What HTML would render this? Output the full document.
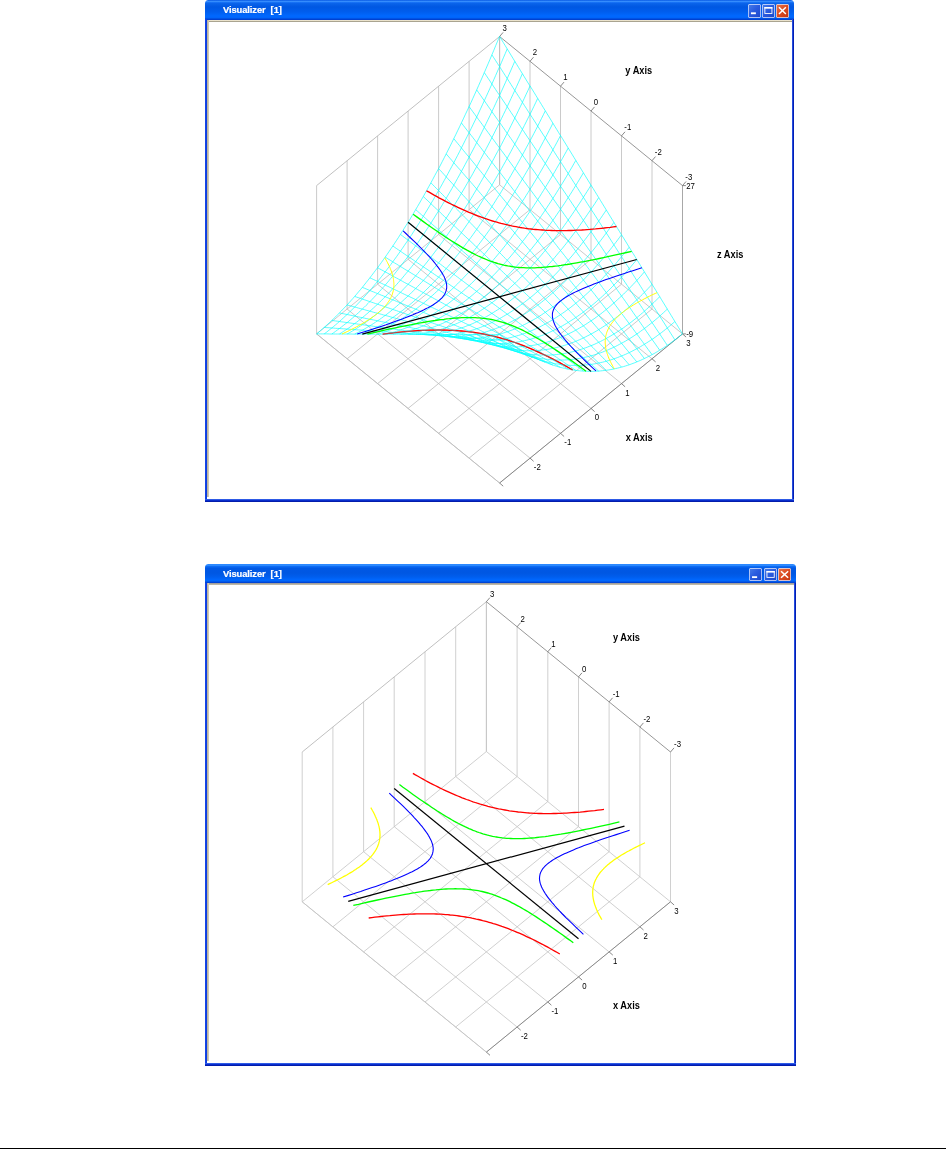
<!DOCTYPE html>
<html><head><meta charset="utf-8"><title>Visualizer</title>
<style>
html,body{margin:0;padding:0;background:#fff;}
body{width:946px;height:1149px;position:relative;overflow:hidden;font-family:"Liberation Sans",sans-serif;}
.win{position:absolute;box-sizing:border-box;background:#fff;border-radius:3.5px 3.5px 0 0;overflow:hidden;}
.bl{position:absolute;left:0;top:19px;bottom:0;width:2.2px;background:linear-gradient(to right,#1848e6,#0a3ae0);}
.br{position:absolute;right:0;top:19px;bottom:0;width:2.2px;background:linear-gradient(to right,#4a78f0 0,#0a30d4 40%,#00139b 100%);}
.bb{position:absolute;left:0;right:0;bottom:0;height:3.2px;background:linear-gradient(to bottom,#4a78f0 0,#0a34d8 38%,#00139b 100%);}
.win:after{content:"";position:absolute;left:0;right:0;bottom:0;height:0;}
.tb{position:absolute;left:0;right:0;top:0;height:20px;background:linear-gradient(to bottom,#0050e0 0px,#3b92ff 1.3px,#1872f5 2.4px,#0a63ea 3.4px,#0057e2 7px,#005eee 12px,#0068ff 16px,#0064f8 calc(100% - 2px),#0042d2 calc(100% - 1px),#0040d0 100%);}
.tt{will-change:transform;position:absolute;left:18px;-webkit-text-stroke:0.2px #fff;top:4px;font-size:9.4px;font-weight:bold;color:#fff;line-height:11px;white-space:pre;letter-spacing:-0.1px}
.btn{position:absolute;top:4.1px;box-sizing:border-box;border-radius:2px;background:linear-gradient(135deg,#4a7fe8 0%,#2a5ce0 45%,#1a45c8 100%);box-shadow:0 0 0 0.7px #dfe8ff inset;}
.btn svg{position:absolute;left:0;top:0}
.btn.cl{background:linear-gradient(135deg,#e8794e 0%,#dc4b22 50%,#c2330f 100%);}
.cl1{position:absolute;left:2px;right:2px;top:19.8px;height:2.3px;background:linear-gradient(to bottom,#f0e8d2 0,#e6dec6 45%,#aaa490 75%,#c8c4b6 100%);}
.w2 .tb{background:linear-gradient(to bottom,#2a86ff 0px,#2f8cff 1.4px,#0a68f2 2.6px,#0058e4 4.5px,#0057e2 9px,#005eee 13px,#0068ff 16px,#0066fa calc(100% - 2px),#0046d6 calc(100% - 0.8px),#0040d0 100%);}
.w2 .cl1{height:2.4px;background:linear-gradient(to bottom,#9aa0b4 0,#a8a290 40%,#bdb8a8 75%,#e4e2dc 100%);}
.cl2{position:absolute;left:2px;top:20px;bottom:4.6px;width:1.6px;background:linear-gradient(to right,#b4ac96 0,#d9d2bc 100%);}
svg.plot{position:absolute;left:0;top:0;will-change:transform;}
svg.plot text{font-family:"Liberation Sans",sans-serif;fill:#000;}
.hr{position:absolute;left:0;top:1147.6px;width:946px;height:1.4px;background:#000;}
</style></head><body>
<div class="win" style="left:205px;top:0px;width:589px;height:502px">
<div class="tb" style="height:20px"><span class="tt" style="top:4px">Visualizer&nbsp; [1]</span>
<div class="btn" style="left:543.2px;width:12.8px;height:13.6px"><svg width="12.8" height="13.6" viewBox="0 0 13 14" preserveAspectRatio="none"><rect x="3" y="8.6" width="5" height="1.9" fill="#fff"/></svg></div>
<div class="btn" style="left:557.3px;width:12.8px;height:13.6px"><svg width="12.8" height="13.6" viewBox="0 0 13 14" preserveAspectRatio="none"><rect x="2.9" y="3.6" width="7.2" height="6.2" fill="none" stroke="#fff" stroke-width="0.9"/><rect x="2.45" y="3.1" width="8.1" height="1.7" fill="#fff"/></svg></div>
<div class="btn cl" style="left:571.4px;width:12.8px;height:13.6px"><svg width="12.8" height="13.6" viewBox="0 0 13 14" preserveAspectRatio="none"><path d="M3 3.3 L10 10.3 M10 3.3 L3 10.3" stroke="#fff" stroke-width="1.5"/></svg></div>
</div>
<div class="cl1" style="top:19.8px"></div><div class="cl2" style="top:20px"></div>
<div class="bl"></div><div class="br"></div><div class="bb"></div>
</div>
<div class="win w2" style="left:205px;top:563.8px;width:591px;height:502.2px">
<div class="tb" style="height:19.4px"><span class="tt" style="top:3.8px">Visualizer&nbsp; [1]</span>
<div class="btn" style="left:544.2px;width:13.2px;height:13.4px"><svg width="13.2" height="13.4" viewBox="0 0 13 14" preserveAspectRatio="none"><rect x="3" y="8.6" width="5" height="1.9" fill="#fff"/></svg></div>
<div class="btn" style="left:558.7px;width:13.2px;height:13.4px"><svg width="13.2" height="13.4" viewBox="0 0 13 14" preserveAspectRatio="none"><rect x="2.9" y="3.6" width="7.2" height="6.2" fill="none" stroke="#fff" stroke-width="0.9"/><rect x="2.45" y="3.1" width="8.1" height="1.7" fill="#fff"/></svg></div>
<div class="btn cl" style="left:573.2px;width:13.2px;height:13.4px"><svg width="13.2" height="13.4" viewBox="0 0 13 14" preserveAspectRatio="none"><path d="M3 3.3 L10 10.3 M10 3.3 L3 10.3" stroke="#fff" stroke-width="1.5"/></svg></div>
</div>
<div class="cl1" style="top:19.2px"></div><div class="cl2" style="top:19.4px"></div>
<div class="bl"></div><div class="br"></div><div class="bb"></div>
</div>
<svg class="plot" width="946" height="1149" viewBox="0 0 946 1149">
<line x1="499.6" y1="483.0" x2="316.6" y2="333.9" stroke="#bcbcbc" stroke-width="0.8"/>
<line x1="499.6" y1="483.0" x2="682.5" y2="333.9" stroke="#bcbcbc" stroke-width="0.8"/>
<line x1="530.0" y1="458.1" x2="347.1" y2="309.0" stroke="#bcbcbc" stroke-width="0.8"/>
<line x1="469.1" y1="458.1" x2="652.0" y2="309.0" stroke="#bcbcbc" stroke-width="0.8"/>
<line x1="560.5" y1="433.3" x2="377.6" y2="284.2" stroke="#bcbcbc" stroke-width="0.8"/>
<line x1="438.6" y1="433.3" x2="621.5" y2="284.2" stroke="#bcbcbc" stroke-width="0.8"/>
<line x1="591.0" y1="408.4" x2="408.1" y2="259.3" stroke="#bcbcbc" stroke-width="0.8"/>
<line x1="408.1" y1="408.4" x2="591.0" y2="259.3" stroke="#bcbcbc" stroke-width="0.8"/>
<line x1="621.5" y1="383.6" x2="438.6" y2="234.5" stroke="#bcbcbc" stroke-width="0.8"/>
<line x1="377.6" y1="383.6" x2="560.5" y2="234.5" stroke="#bcbcbc" stroke-width="0.8"/>
<line x1="652.0" y1="358.8" x2="469.1" y2="209.6" stroke="#bcbcbc" stroke-width="0.8"/>
<line x1="347.1" y1="358.8" x2="530.0" y2="209.6" stroke="#bcbcbc" stroke-width="0.8"/>
<line x1="682.5" y1="333.9" x2="499.6" y2="184.8" stroke="#bcbcbc" stroke-width="0.8"/>
<line x1="316.6" y1="333.9" x2="499.6" y2="184.8" stroke="#bcbcbc" stroke-width="0.8"/>
<line x1="316.6" y1="333.9" x2="316.6" y2="185.6" stroke="#bcbcbc" stroke-width="0.8"/>
<line x1="682.5" y1="333.9" x2="682.5" y2="185.6" stroke="#bcbcbc" stroke-width="0.8"/>
<line x1="347.1" y1="309.0" x2="347.1" y2="160.7" stroke="#bcbcbc" stroke-width="0.8"/>
<line x1="652.0" y1="309.0" x2="652.0" y2="160.7" stroke="#bcbcbc" stroke-width="0.8"/>
<line x1="377.6" y1="284.2" x2="377.6" y2="135.9" stroke="#bcbcbc" stroke-width="0.8"/>
<line x1="621.5" y1="284.2" x2="621.5" y2="135.9" stroke="#bcbcbc" stroke-width="0.8"/>
<line x1="408.1" y1="259.3" x2="408.1" y2="111.0" stroke="#bcbcbc" stroke-width="0.8"/>
<line x1="591.0" y1="259.3" x2="591.0" y2="111.0" stroke="#bcbcbc" stroke-width="0.8"/>
<line x1="438.6" y1="234.5" x2="438.6" y2="86.2" stroke="#bcbcbc" stroke-width="0.8"/>
<line x1="560.5" y1="234.5" x2="560.5" y2="86.2" stroke="#bcbcbc" stroke-width="0.8"/>
<line x1="469.1" y1="209.6" x2="469.1" y2="61.3" stroke="#bcbcbc" stroke-width="0.8"/>
<line x1="530.0" y1="209.6" x2="530.0" y2="61.3" stroke="#bcbcbc" stroke-width="0.8"/>
<line x1="499.6" y1="184.8" x2="499.6" y2="36.5" stroke="#bcbcbc" stroke-width="0.8"/>
<line x1="499.6" y1="184.8" x2="499.6" y2="36.5" stroke="#bcbcbc" stroke-width="0.8"/>
<line x1="316.6" y1="185.6" x2="499.6" y2="36.5" stroke="#b0b0b0" stroke-width="0.8"/>
<line x1="499.6" y1="36.5" x2="682.5" y2="185.6" stroke="#6a6a6a" stroke-width="0.7"/>
<line x1="499.6" y1="483.0" x2="682.5" y2="333.9" stroke="#6a6a6a" stroke-width="0.7"/>
<line x1="499.6" y1="483.0" x2="316.6" y2="333.9" stroke="#bcbcbc" stroke-width="0.8"/>
<line x1="682.5" y1="333.9" x2="682.5" y2="185.6" stroke="#a0a0a0" stroke-width="0.8"/>
<line x1="682.5" y1="185.6" x2="686.0" y2="181.5" stroke="#6a6a6a" stroke-width="0.8"/>
<line x1="499.6" y1="483.0" x2="503.2" y2="486.2" stroke="#6a6a6a" stroke-width="0.8"/>
<line x1="652.0" y1="160.7" x2="655.5" y2="156.6" stroke="#6a6a6a" stroke-width="0.8"/>
<line x1="530.0" y1="458.1" x2="533.6" y2="461.3" stroke="#6a6a6a" stroke-width="0.8"/>
<line x1="621.5" y1="135.9" x2="625.0" y2="131.8" stroke="#6a6a6a" stroke-width="0.8"/>
<line x1="560.5" y1="433.3" x2="564.1" y2="436.5" stroke="#6a6a6a" stroke-width="0.8"/>
<line x1="591.0" y1="111.0" x2="594.5" y2="106.9" stroke="#6a6a6a" stroke-width="0.8"/>
<line x1="591.0" y1="408.4" x2="594.6" y2="411.6" stroke="#6a6a6a" stroke-width="0.8"/>
<line x1="560.5" y1="86.2" x2="564.0" y2="82.1" stroke="#6a6a6a" stroke-width="0.8"/>
<line x1="621.5" y1="383.6" x2="625.1" y2="386.8" stroke="#6a6a6a" stroke-width="0.8"/>
<line x1="530.0" y1="61.3" x2="533.5" y2="57.2" stroke="#6a6a6a" stroke-width="0.8"/>
<line x1="652.0" y1="358.8" x2="655.6" y2="361.9" stroke="#6a6a6a" stroke-width="0.8"/>
<line x1="499.6" y1="36.5" x2="503.1" y2="32.4" stroke="#6a6a6a" stroke-width="0.8"/>
<line x1="682.5" y1="333.9" x2="686.1" y2="337.1" stroke="#6a6a6a" stroke-width="0.8"/>
<line x1="682.5" y1="333.9" x2="685.9" y2="333.9" stroke="#6a6a6a" stroke-width="0.8"/>
<line x1="682.5" y1="185.6" x2="685.9" y2="185.6" stroke="#6a6a6a" stroke-width="0.8"/>
<path d="M572.6 369.9 L570.0 368.5 L567.5 367.0 L565.0 365.6 L562.5 364.2 L560.1 362.9 L557.6 361.6 L555.2 360.3 L552.9 359.1 L550.5 357.9 L548.2 356.7 L545.9 355.6 L543.6 354.5 L541.3 353.4 L539.0 352.3 L536.8 351.3 L534.5 350.3 L532.3 349.3 L530.1 348.4 L527.9 347.5 L525.7 346.6 L523.6 345.7 L521.4 344.9 L519.2 344.1 L517.1 343.3 L515.0 342.5 L512.8 341.8 L510.7 341.1 L508.6 340.4 L506.5 339.7 L504.3 339.1 L502.2 338.5 L500.1 337.9 L498.0 337.3 L495.9 336.8 L493.8 336.2 L491.6 335.7 L489.5 335.3 L487.4 334.8 L485.3 334.4 L483.1 334.0 L481.0 333.6 L478.8 333.2 L476.7 332.8 L474.5 332.5 L472.3 332.2 L470.2 331.9 L468.0 331.7 L465.7 331.4 L463.5 331.2 L461.3 331.0 L459.0 330.8 L456.8 330.6 L454.5 330.5 L452.2 330.4 L449.8 330.3 L447.5 330.2 L445.1 330.1 L442.7 330.1 L440.3 330.0 L437.9 330.0 L435.4 330.1 L432.9 330.1 L430.4 330.1 L427.9 330.2 L425.3 330.3 L422.7 330.4 L420.1 330.6 L417.4 330.7 L414.7 330.9 L412.0 331.1 L409.3 331.3 L406.5 331.5 L403.6 331.8 L400.7 332.1 L397.8 332.4 L394.9 332.7 L391.9 333.0 L388.8 333.4 L385.8 333.8 L382.6 334.2" fill="none" stroke="#ff0000" stroke-width="1.3"/>
<path d="M499.6 334.7 L497.6 334.7 L495.7 334.7 L493.8 334.7 L491.9 334.6 L490.0 334.6 L488.1 334.6 L486.2 334.6 L484.3 334.6 L482.4 334.6 L480.5 334.6 L478.6 334.6 L476.7 334.6 L474.8 334.6 L472.9 334.6 L471.0 334.6 L469.1 334.5 L467.1 334.5 L465.2 334.5 L463.3 334.5 L461.4 334.5 L459.5 334.5 L457.6 334.5 L455.7 334.5 L453.8 334.5 L451.9 334.5 L450.0 334.5 L448.1 334.5 L446.2 334.5 L444.3 334.4 L442.4 334.4 L440.5 334.4 L438.6 334.4 L436.6 334.4 L434.7 334.4 L432.8 334.4 L430.9 334.4 L429.0 334.4 L427.1 334.4 L425.2 334.4 L423.3 334.4 L421.4 334.3 L419.5 334.3 L417.6 334.3 L415.7 334.3 L413.8 334.3 L411.9 334.3 L410.0 334.3 L408.1 334.3 L406.1 334.3 L404.2 334.3 L402.3 334.3 L400.4 334.3 L398.5 334.2 L396.6 334.2 L394.7 334.2 L392.8 334.2 L390.9 334.2 L389.0 334.2 L387.1 334.2 L385.2 334.2 L383.3 334.2 L381.4 334.2 L379.5 334.2 L377.6 334.2 L375.6 334.2 L373.7 334.1 L371.8 334.1 L369.9 334.1 L368.0 334.1 L366.1 334.1 L364.2 334.1 L362.3 334.1 L360.4 334.1 L358.5 334.1 L356.6 334.1 L354.7 334.1 L352.8 334.1 L350.9 334.0 L349.0 334.0 L347.1 334.0 L345.1 334.0 L343.2 334.0 L341.3 334.0 L339.4 334.0 L337.5 334.0 L335.6 334.0 L333.7 334.0 L331.8 334.0 L329.9 334.0 L328.0 333.9 L326.1 333.9 L324.2 333.9 L322.3 333.9 L320.4 333.9 L318.5 333.9 L316.6 333.9" fill="none" stroke="#00ffff" stroke-width="0.65"/>
<path d="M499.6 334.7 L501.5 336.2 L503.4 337.7 L505.3 339.1 L507.2 340.6 L509.1 342.0 L511.0 343.3 L512.9 344.6 L514.8 345.9 L516.7 347.2 L518.6 348.4 L520.5 349.6 L522.4 350.8 L524.3 351.9 L526.2 353.0 L528.1 354.1 L530.0 355.1 L532.0 356.2 L533.9 357.1 L535.8 358.1 L537.7 359.0 L539.6 359.9 L541.5 360.7 L543.4 361.5 L545.3 362.3 L547.2 363.0 L549.1 363.8 L551.0 364.4 L552.9 365.1 L554.8 365.7 L556.7 366.3 L558.6 366.9 L560.5 367.4 L562.5 367.9 L564.4 368.3 L566.3 368.8 L568.2 369.1 L570.1 369.5 L572.0 369.8 L573.9 370.1 L575.8 370.4 L577.7 370.6 L579.6 370.8 L581.5 371.0 L583.4 371.1 L585.3 371.2 L587.2 371.3 L589.1 371.4 L591.0 371.4 L593.0 371.3 L594.9 371.3 L596.8 371.2 L598.7 371.1 L600.6 370.9 L602.5 370.7 L604.4 370.5 L606.3 370.3 L608.2 370.0 L610.1 369.7 L612.0 369.3 L613.9 369.0 L615.8 368.5 L617.7 368.1 L619.6 367.6 L621.5 367.1 L623.5 366.6 L625.4 366.0 L627.3 365.4 L629.2 364.8 L631.1 364.1 L633.0 363.4 L634.9 362.7 L636.8 361.9 L638.7 361.1 L640.6 360.3 L642.5 359.4 L644.4 358.5 L646.3 357.6 L648.2 356.6 L650.1 355.7 L652.0 354.6 L654.0 353.6 L655.9 352.5 L657.8 351.4 L659.7 350.2 L661.6 349.0 L663.5 347.8 L665.4 346.6 L667.3 345.3 L669.2 344.0 L671.1 342.6 L673.0 341.3 L674.9 339.9 L676.8 338.4 L678.7 336.9 L680.6 335.4 L682.5 333.9" fill="none" stroke="#00ffff" stroke-width="0.65"/>
<path d="M507.2 340.6 L505.3 340.4 L503.4 340.3 L501.5 340.2 L499.6 340.0 L497.6 339.9 L495.7 339.7 L493.8 339.6 L491.9 339.5 L490.0 339.3 L488.1 339.2 L486.2 339.1 L484.3 338.9 L482.4 338.8 L480.5 338.7 L478.6 338.5 L476.7 338.4 L474.8 338.2 L472.9 338.1 L471.0 338.0 L469.1 337.8 L467.1 337.7 L465.2 337.6 L463.3 337.4 L461.4 337.3 L459.5 337.1 L457.6 337.0 L455.7 336.9 L453.8 336.7 L451.9 336.6 L450.0 336.5 L448.1 336.3 L446.2 336.2 L444.3 336.1 L442.4 335.9 L440.5 335.8 L438.6 335.6 L436.6 335.5 L434.7 335.4 L432.8 335.2 L430.9 335.1 L429.0 335.0 L427.1 334.8 L425.2 334.7 L423.3 334.5 L421.4 334.4 L419.5 334.3 L417.6 334.1 L415.7 334.0 L413.8 333.9 L411.9 333.7 L410.0 333.6 L408.1 333.5 L406.1 333.3 L404.2 333.2 L402.3 333.0 L400.4 332.9 L398.5 332.8 L396.6 332.6 L394.7 332.5 L392.8 332.4 L390.9 332.2 L389.0 332.1 L387.1 331.9 L385.2 331.8 L383.3 331.7 L381.4 331.5 L379.5 331.4 L377.6 331.3 L375.6 331.1 L373.7 331.0 L371.8 330.9 L369.9 330.7 L368.0 330.6 L366.1 330.4 L364.2 330.3 L362.3 330.2 L360.4 330.0 L358.5 329.9 L356.6 329.8 L354.7 329.6 L352.8 329.5 L350.9 329.3 L349.0 329.2 L347.1 329.1 L345.1 328.9 L343.2 328.8 L341.3 328.7 L339.4 328.5 L337.5 328.4 L335.6 328.3 L333.7 328.1 L331.8 328.0 L329.9 327.8 L328.0 327.7 L326.1 327.6 L324.2 327.4" fill="none" stroke="#00ffff" stroke-width="0.65"/>
<path d="M491.9 334.6 L493.8 336.0 L495.7 337.4 L497.6 338.7 L499.6 340.0 L501.5 341.3 L503.4 342.5 L505.3 343.7 L507.2 344.9 L509.1 346.0 L511.0 347.1 L512.9 348.2 L514.8 349.2 L516.7 350.2 L518.6 351.2 L520.5 352.1 L522.4 353.1 L524.3 353.9 L526.2 354.8 L528.1 355.6 L530.0 356.4 L532.0 357.1 L533.9 357.8 L535.8 358.5 L537.7 359.2 L539.6 359.8 L541.5 360.4 L543.4 360.9 L545.3 361.5 L547.2 361.9 L549.1 362.4 L551.0 362.8 L552.9 363.2 L554.8 363.6 L556.7 363.9 L558.6 364.2 L560.5 364.5 L562.5 364.7 L564.4 364.9 L566.3 365.1 L568.2 365.2 L570.1 365.3 L572.0 365.4 L573.9 365.4 L575.8 365.4 L577.7 365.4 L579.6 365.4 L581.5 365.3 L583.4 365.2 L585.3 365.0 L587.2 364.8 L589.1 364.6 L591.0 364.4 L593.0 364.1 L594.9 363.8 L596.8 363.4 L598.7 363.0 L600.6 362.6 L602.5 362.2 L604.4 361.7 L606.3 361.2 L608.2 360.7 L610.1 360.1 L612.0 359.5 L613.9 358.8 L615.8 358.2 L617.7 357.5 L619.6 356.7 L621.5 356.0 L623.5 355.2 L625.4 354.4 L627.3 353.5 L629.2 352.6 L631.1 351.7 L633.0 350.7 L634.9 349.7 L636.8 348.7 L638.7 347.7 L640.6 346.6 L642.5 345.4 L644.4 344.3 L646.3 343.1 L648.2 341.9 L650.1 340.7 L652.0 339.4 L654.0 338.1 L655.9 336.7 L657.8 335.3 L659.7 333.9 L661.6 332.5 L663.5 331.0 L665.4 329.5 L667.3 328.0 L669.2 326.4 L671.1 324.8 L673.0 323.2 L674.9 321.5" fill="none" stroke="#00ffff" stroke-width="0.65"/>
<path d="M514.8 345.9 L512.9 345.7 L511.0 345.4 L509.1 345.1 L507.2 344.9 L505.3 344.6 L503.4 344.4 L501.5 344.1 L499.6 343.8 L497.6 343.6 L495.7 343.3 L493.8 343.0 L491.9 342.8 L490.0 342.5 L488.1 342.2 L486.2 342.0 L484.3 341.7 L482.4 341.4 L480.5 341.2 L478.6 340.9 L476.7 340.6 L474.8 340.4 L472.9 340.1 L471.0 339.8 L469.1 339.6 L467.1 339.3 L465.2 339.0 L463.3 338.8 L461.4 338.5 L459.5 338.2 L457.6 338.0 L455.7 337.7 L453.8 337.4 L451.9 337.2 L450.0 336.9 L448.1 336.6 L446.2 336.4 L444.3 336.1 L442.4 335.9 L440.5 335.6 L438.6 335.3 L436.6 335.1 L434.7 334.8 L432.8 334.5 L430.9 334.3 L429.0 334.0 L427.1 333.7 L425.2 333.5 L423.3 333.2 L421.4 332.9 L419.5 332.7 L417.6 332.4 L415.7 332.1 L413.8 331.9 L411.9 331.6 L410.0 331.3 L408.1 331.1 L406.1 330.8 L404.2 330.5 L402.3 330.3 L400.4 330.0 L398.5 329.7 L396.6 329.5 L394.7 329.2 L392.8 328.9 L390.9 328.7 L389.0 328.4 L387.1 328.1 L385.2 327.9 L383.3 327.6 L381.4 327.4 L379.5 327.1 L377.6 326.8 L375.6 326.6 L373.7 326.3 L371.8 326.0 L369.9 325.8 L368.0 325.5 L366.1 325.2 L364.2 325.0 L362.3 324.7 L360.4 324.4 L358.5 324.2 L356.6 323.9 L354.7 323.6 L352.8 323.4 L350.9 323.1 L349.0 322.8 L347.1 322.6 L345.1 322.3 L343.2 322.0 L341.3 321.8 L339.4 321.5 L337.5 321.2 L335.6 321.0 L333.7 320.7 L331.8 320.4" fill="none" stroke="#00ffff" stroke-width="0.65"/>
<path d="M484.3 334.6 L486.2 335.9 L488.1 337.1 L490.0 338.3 L491.9 339.5 L493.8 340.6 L495.7 341.7 L497.6 342.8 L499.6 343.8 L501.5 344.8 L503.4 345.8 L505.3 346.7 L507.2 347.6 L509.1 348.5 L511.0 349.4 L512.9 350.2 L514.8 351.0 L516.7 351.7 L518.6 352.4 L520.5 353.1 L522.4 353.8 L524.3 354.4 L526.2 355.0 L528.1 355.5 L530.0 356.0 L532.0 356.5 L533.9 357.0 L535.8 357.4 L537.7 357.8 L539.6 358.2 L541.5 358.5 L543.4 358.8 L545.3 359.1 L547.2 359.3 L549.1 359.5 L551.0 359.7 L552.9 359.8 L554.8 359.9 L556.7 360.0 L558.6 360.0 L560.5 360.0 L562.5 360.0 L564.4 360.0 L566.3 359.9 L568.2 359.7 L570.1 359.6 L572.0 359.4 L573.9 359.2 L575.8 358.9 L577.7 358.7 L579.6 358.3 L581.5 358.0 L583.4 357.6 L585.3 357.2 L587.2 356.8 L589.1 356.3 L591.0 355.8 L593.0 355.3 L594.9 354.7 L596.8 354.1 L598.7 353.4 L600.6 352.8 L602.5 352.1 L604.4 351.3 L606.3 350.6 L608.2 349.8 L610.1 348.9 L612.0 348.1 L613.9 347.2 L615.8 346.3 L617.7 345.3 L619.6 344.3 L621.5 343.3 L623.5 342.2 L625.4 341.2 L627.3 340.0 L629.2 338.9 L631.1 337.7 L633.0 336.5 L634.9 335.2 L636.8 334.0 L638.7 332.7 L640.6 331.3 L642.5 329.9 L644.4 328.5 L646.3 327.1 L648.2 325.6 L650.1 324.1 L652.0 322.6 L654.0 321.0 L655.9 319.4 L657.8 317.8 L659.7 316.1 L661.6 314.4 L663.5 312.7 L665.4 310.9 L667.3 309.1" fill="none" stroke="#00ffff" stroke-width="0.65"/>
<path d="M522.4 350.8 L520.5 350.4 L518.6 350.0 L516.7 349.6 L514.8 349.2 L512.9 348.8 L511.0 348.4 L509.1 348.0 L507.2 347.6 L505.3 347.3 L503.4 346.9 L501.5 346.5 L499.6 346.1 L497.6 345.7 L495.7 345.3 L493.8 344.9 L491.9 344.5 L490.0 344.1 L488.1 343.7 L486.2 343.3 L484.3 342.9 L482.4 342.5 L480.5 342.1 L478.6 341.7 L476.7 341.3 L474.8 340.9 L472.9 340.6 L471.0 340.2 L469.1 339.8 L467.1 339.4 L465.2 339.0 L463.3 338.6 L461.4 338.2 L459.5 337.8 L457.6 337.4 L455.7 337.0 L453.8 336.6 L451.9 336.2 L450.0 335.8 L448.1 335.4 L446.2 335.0 L444.3 334.6 L442.4 334.2 L440.5 333.8 L438.6 333.5 L436.6 333.1 L434.7 332.7 L432.8 332.3 L430.9 331.9 L429.0 331.5 L427.1 331.1 L425.2 330.7 L423.3 330.3 L421.4 329.9 L419.5 329.5 L417.6 329.1 L415.7 328.7 L413.8 328.3 L411.9 327.9 L410.0 327.5 L408.1 327.1 L406.1 326.7 L404.2 326.4 L402.3 326.0 L400.4 325.6 L398.5 325.2 L396.6 324.8 L394.7 324.4 L392.8 324.0 L390.9 323.6 L389.0 323.2 L387.1 322.8 L385.2 322.4 L383.3 322.0 L381.4 321.6 L379.5 321.2 L377.6 320.8 L375.6 320.4 L373.7 320.0 L371.8 319.6 L369.9 319.3 L368.0 318.9 L366.1 318.5 L364.2 318.1 L362.3 317.7 L360.4 317.3 L358.5 316.9 L356.6 316.5 L354.7 316.1 L352.8 315.7 L350.9 315.3 L349.0 314.9 L347.1 314.5 L345.1 314.1 L343.2 313.7 L341.3 313.3 L339.4 312.9" fill="none" stroke="#00ffff" stroke-width="0.65"/>
<path d="M476.7 334.6 L478.6 335.7 L480.5 336.8 L482.4 337.9 L484.3 338.9 L486.2 339.9 L488.1 340.9 L490.0 341.8 L491.9 342.8 L493.8 343.6 L495.7 344.5 L497.6 345.3 L499.6 346.1 L501.5 346.8 L503.4 347.5 L505.3 348.2 L507.2 348.9 L509.1 349.5 L511.0 350.1 L512.9 350.6 L514.8 351.2 L516.7 351.6 L518.6 352.1 L520.5 352.5 L522.4 352.9 L524.3 353.3 L526.2 353.6 L528.1 353.9 L530.0 354.2 L532.0 354.4 L533.9 354.6 L535.8 354.8 L537.7 354.9 L539.6 355.0 L541.5 355.1 L543.4 355.1 L545.3 355.1 L547.2 355.1 L549.1 355.1 L551.0 355.0 L552.9 354.9 L554.8 354.7 L556.7 354.5 L558.6 354.3 L560.5 354.1 L562.5 353.8 L564.4 353.5 L566.3 353.1 L568.2 352.7 L570.1 352.3 L572.0 351.9 L573.9 351.4 L575.8 350.9 L577.7 350.4 L579.6 349.8 L581.5 349.2 L583.4 348.5 L585.3 347.9 L587.2 347.2 L589.1 346.4 L591.0 345.7 L593.0 344.9 L594.9 344.1 L596.8 343.2 L598.7 342.3 L600.6 341.4 L602.5 340.4 L604.4 339.4 L606.3 338.4 L608.2 337.4 L610.1 336.3 L612.0 335.1 L613.9 334.0 L615.8 332.8 L617.7 331.6 L619.6 330.4 L621.5 329.1 L623.5 327.8 L625.4 326.4 L627.3 325.0 L629.2 323.6 L631.1 322.2 L633.0 320.7 L634.9 319.2 L636.8 317.7 L638.7 316.1 L640.6 314.5 L642.5 312.9 L644.4 311.2 L646.3 309.5 L648.2 307.8 L650.1 306.0 L652.0 304.2 L654.0 302.4 L655.9 300.5 L657.8 298.6 L659.7 296.7" fill="none" stroke="#00ffff" stroke-width="0.65"/>
<path d="M530.0 355.1 L528.1 354.6 L526.2 354.1 L524.3 353.6 L522.4 353.1 L520.5 352.5 L518.6 352.0 L516.7 351.5 L514.8 351.0 L512.9 350.4 L511.0 349.9 L509.1 349.4 L507.2 348.9 L505.3 348.3 L503.4 347.8 L501.5 347.3 L499.6 346.8 L497.6 346.3 L495.7 345.7 L493.8 345.2 L491.9 344.7 L490.0 344.2 L488.1 343.6 L486.2 343.1 L484.3 342.6 L482.4 342.1 L480.5 341.5 L478.6 341.0 L476.7 340.5 L474.8 340.0 L472.9 339.5 L471.0 338.9 L469.1 338.4 L467.1 337.9 L465.2 337.4 L463.3 336.8 L461.4 336.3 L459.5 335.8 L457.6 335.3 L455.7 334.7 L453.8 334.2 L451.9 333.7 L450.0 333.2 L448.1 332.7 L446.2 332.1 L444.3 331.6 L442.4 331.1 L440.5 330.6 L438.6 330.0 L436.6 329.5 L434.7 329.0 L432.8 328.5 L430.9 327.9 L429.0 327.4 L427.1 326.9 L425.2 326.4 L423.3 325.9 L421.4 325.3 L419.5 324.8 L417.6 324.3 L415.7 323.8 L413.8 323.2 L411.9 322.7 L410.0 322.2 L408.1 321.7 L406.1 321.1 L404.2 320.6 L402.3 320.1 L400.4 319.6 L398.5 319.1 L396.6 318.5 L394.7 318.0 L392.8 317.5 L390.9 317.0 L389.0 316.4 L387.1 315.9 L385.2 315.4 L383.3 314.9 L381.4 314.3 L379.5 313.8 L377.6 313.3 L375.6 312.8 L373.7 312.3 L371.8 311.7 L369.9 311.2 L368.0 310.7 L366.1 310.2 L364.2 309.6 L362.3 309.1 L360.4 308.6 L358.5 308.1 L356.6 307.5 L354.7 307.0 L352.8 306.5 L350.9 306.0 L349.0 305.5 L347.1 304.9" fill="none" stroke="#00ffff" stroke-width="0.65"/>
<path d="M469.1 334.5 L471.0 335.6 L472.9 336.5 L474.8 337.5 L476.7 338.4 L478.6 339.3 L480.5 340.1 L482.4 340.9 L484.3 341.7 L486.2 342.4 L488.1 343.2 L490.0 343.8 L491.9 344.5 L493.8 345.1 L495.7 345.7 L497.6 346.3 L499.6 346.8 L501.5 347.3 L503.4 347.7 L505.3 348.2 L507.2 348.5 L509.1 348.9 L511.0 349.2 L512.9 349.5 L514.8 349.8 L516.7 350.0 L518.6 350.2 L520.5 350.4 L522.4 350.5 L524.3 350.6 L526.2 350.7 L528.1 350.8 L530.0 350.8 L532.0 350.7 L533.9 350.7 L535.8 350.6 L537.7 350.5 L539.6 350.3 L541.5 350.1 L543.4 349.9 L545.3 349.7 L547.2 349.4 L549.1 349.1 L551.0 348.7 L552.9 348.4 L554.8 347.9 L556.7 347.5 L558.6 347.0 L560.5 346.5 L562.5 346.0 L564.4 345.4 L566.3 344.8 L568.2 344.2 L570.1 343.5 L572.0 342.8 L573.9 342.1 L575.8 341.3 L577.7 340.5 L579.6 339.7 L581.5 338.8 L583.4 337.9 L585.3 337.0 L587.2 336.0 L589.1 335.1 L591.0 334.0 L593.0 333.0 L594.9 331.9 L596.8 330.8 L598.7 329.6 L600.6 328.4 L602.5 327.2 L604.4 326.0 L606.3 324.7 L608.2 323.4 L610.1 322.0 L612.0 320.7 L613.9 319.3 L615.8 317.8 L617.7 316.3 L619.6 314.8 L621.5 313.3 L623.5 311.7 L625.4 310.1 L627.3 308.5 L629.2 306.8 L631.1 305.1 L633.0 303.4 L634.9 301.6 L636.8 299.8 L638.7 298.0 L640.6 296.2 L642.5 294.3 L644.4 292.3 L646.3 290.4 L648.2 288.4 L650.1 286.4 L652.0 284.3" fill="none" stroke="#00ffff" stroke-width="0.65"/>
<path d="M537.7 359.0 L535.8 358.3 L533.9 357.7 L532.0 357.0 L530.0 356.4 L528.1 355.7 L526.2 355.1 L524.3 354.4 L522.4 353.8 L520.5 353.1 L518.6 352.5 L516.7 351.8 L514.8 351.2 L512.9 350.5 L511.0 349.9 L509.1 349.2 L507.2 348.5 L505.3 347.9 L503.4 347.2 L501.5 346.6 L499.6 345.9 L497.6 345.3 L495.7 344.6 L493.8 344.0 L491.9 343.3 L490.0 342.7 L488.1 342.0 L486.2 341.4 L484.3 340.7 L482.4 340.1 L480.5 339.4 L478.6 338.8 L476.7 338.1 L474.8 337.5 L472.9 336.8 L471.0 336.2 L469.1 335.5 L467.1 334.9 L465.2 334.2 L463.3 333.6 L461.4 332.9 L459.5 332.3 L457.6 331.6 L455.7 330.9 L453.8 330.3 L451.9 329.6 L450.0 329.0 L448.1 328.3 L446.2 327.7 L444.3 327.0 L442.4 326.4 L440.5 325.7 L438.6 325.1 L436.6 324.4 L434.7 323.8 L432.8 323.1 L430.9 322.5 L429.0 321.8 L427.1 321.2 L425.2 320.5 L423.3 319.9 L421.4 319.2 L419.5 318.6 L417.6 317.9 L415.7 317.3 L413.8 316.6 L411.9 316.0 L410.0 315.3 L408.1 314.7 L406.1 314.0 L404.2 313.3 L402.3 312.7 L400.4 312.0 L398.5 311.4 L396.6 310.7 L394.7 310.1 L392.8 309.4 L390.9 308.8 L389.0 308.1 L387.1 307.5 L385.2 306.8 L383.3 306.2 L381.4 305.5 L379.5 304.9 L377.6 304.2 L375.6 303.6 L373.7 302.9 L371.8 302.3 L369.9 301.6 L368.0 301.0 L366.1 300.3 L364.2 299.7 L362.3 299.0 L360.4 298.4 L358.5 297.7 L356.6 297.1 L354.7 296.4" fill="none" stroke="#00ffff" stroke-width="0.65"/>
<path d="M461.4 334.5 L463.3 335.4 L465.2 336.2 L467.1 337.1 L469.1 337.8 L471.0 338.6 L472.9 339.3 L474.8 340.0 L476.7 340.6 L478.6 341.3 L480.5 341.8 L482.4 342.4 L484.3 342.9 L486.2 343.4 L488.1 343.9 L490.0 344.3 L491.9 344.7 L493.8 345.0 L495.7 345.4 L497.6 345.7 L499.6 345.9 L501.5 346.2 L503.4 346.4 L505.3 346.5 L507.2 346.7 L509.1 346.8 L511.0 346.9 L512.9 346.9 L514.8 346.9 L516.7 346.9 L518.6 346.8 L520.5 346.7 L522.4 346.6 L524.3 346.5 L526.2 346.3 L528.1 346.1 L530.0 345.8 L532.0 345.5 L533.9 345.2 L535.8 344.9 L537.7 344.5 L539.6 344.1 L541.5 343.6 L543.4 343.2 L545.3 342.7 L547.2 342.1 L549.1 341.5 L551.0 340.9 L552.9 340.3 L554.8 339.6 L556.7 338.9 L558.6 338.2 L560.5 337.4 L562.5 336.6 L564.4 335.8 L566.3 335.0 L568.2 334.1 L570.1 333.1 L572.0 332.2 L573.9 331.2 L575.8 330.2 L577.7 329.1 L579.6 328.0 L581.5 326.9 L583.4 325.8 L585.3 324.6 L587.2 323.4 L589.1 322.1 L591.0 320.8 L593.0 319.5 L594.9 318.2 L596.8 316.8 L598.7 315.4 L600.6 314.0 L602.5 312.5 L604.4 311.0 L606.3 309.4 L608.2 307.9 L610.1 306.3 L612.0 304.6 L613.9 303.0 L615.8 301.3 L617.7 299.5 L619.6 297.8 L621.5 296.0 L623.5 294.2 L625.4 292.3 L627.3 290.4 L629.2 288.5 L631.1 286.5 L633.0 284.5 L634.9 282.5 L636.8 280.5 L638.7 278.4 L640.6 276.3 L642.5 274.1 L644.4 271.9" fill="none" stroke="#00ffff" stroke-width="0.65"/>
<path d="M545.3 362.3 L543.4 361.5 L541.5 360.7 L539.6 360.0 L537.7 359.2 L535.8 358.4 L533.9 357.6 L532.0 356.8 L530.0 356.0 L528.1 355.3 L526.2 354.5 L524.3 353.7 L522.4 352.9 L520.5 352.1 L518.6 351.4 L516.7 350.6 L514.8 349.8 L512.9 349.0 L511.0 348.2 L509.1 347.5 L507.2 346.7 L505.3 345.9 L503.4 345.1 L501.5 344.3 L499.6 343.6 L497.6 342.8 L495.7 342.0 L493.8 341.2 L491.9 340.4 L490.0 339.7 L488.1 338.9 L486.2 338.1 L484.3 337.3 L482.4 336.5 L480.5 335.8 L478.6 335.0 L476.7 334.2 L474.8 333.4 L472.9 332.6 L471.0 331.9 L469.1 331.1 L467.1 330.3 L465.2 329.5 L463.3 328.7 L461.4 327.9 L459.5 327.2 L457.6 326.4 L455.7 325.6 L453.8 324.8 L451.9 324.0 L450.0 323.3 L448.1 322.5 L446.2 321.7 L444.3 320.9 L442.4 320.1 L440.5 319.4 L438.6 318.6 L436.6 317.8 L434.7 317.0 L432.8 316.2 L430.9 315.5 L429.0 314.7 L427.1 313.9 L425.2 313.1 L423.3 312.3 L421.4 311.6 L419.5 310.8 L417.6 310.0 L415.7 309.2 L413.8 308.4 L411.9 307.7 L410.0 306.9 L408.1 306.1 L406.1 305.3 L404.2 304.5 L402.3 303.7 L400.4 303.0 L398.5 302.2 L396.6 301.4 L394.7 300.6 L392.8 299.8 L390.9 299.1 L389.0 298.3 L387.1 297.5 L385.2 296.7 L383.3 295.9 L381.4 295.2 L379.5 294.4 L377.6 293.6 L375.6 292.8 L373.7 292.0 L371.8 291.3 L369.9 290.5 L368.0 289.7 L366.1 288.9 L364.2 288.1 L362.3 287.4" fill="none" stroke="#00ffff" stroke-width="0.65"/>
<path d="M453.8 334.5 L455.7 335.2 L457.6 335.9 L459.5 336.6 L461.4 337.3 L463.3 337.9 L465.2 338.5 L467.1 339.0 L469.1 339.6 L471.0 340.1 L472.9 340.5 L474.8 340.9 L476.7 341.3 L478.6 341.7 L480.5 342.0 L482.4 342.3 L484.3 342.6 L486.2 342.8 L488.1 343.0 L490.0 343.2 L491.9 343.3 L493.8 343.4 L495.7 343.5 L497.6 343.6 L499.6 343.6 L501.5 343.5 L503.4 343.5 L505.3 343.4 L507.2 343.3 L509.1 343.1 L511.0 342.9 L512.9 342.7 L514.8 342.5 L516.7 342.2 L518.6 341.9 L520.5 341.5 L522.4 341.1 L524.3 340.7 L526.2 340.3 L528.1 339.8 L530.0 339.3 L532.0 338.8 L533.9 338.2 L535.8 337.6 L537.7 337.0 L539.6 336.3 L541.5 335.6 L543.4 334.9 L545.3 334.1 L547.2 333.3 L549.1 332.5 L551.0 331.6 L552.9 330.7 L554.8 329.8 L556.7 328.8 L558.6 327.8 L560.5 326.8 L562.5 325.8 L564.4 324.7 L566.3 323.6 L568.2 322.4 L570.1 321.2 L572.0 320.0 L573.9 318.8 L575.8 317.5 L577.7 316.2 L579.6 314.8 L581.5 313.5 L583.4 312.0 L585.3 310.6 L587.2 309.1 L589.1 307.6 L591.0 306.1 L593.0 304.5 L594.9 302.9 L596.8 301.3 L598.7 299.6 L600.6 297.9 L602.5 296.2 L604.4 294.4 L606.3 292.6 L608.2 290.8 L610.1 288.9 L612.0 287.1 L613.9 285.1 L615.8 283.2 L617.7 281.2 L619.6 279.2 L621.5 277.1 L623.5 275.0 L625.4 272.9 L627.3 270.8 L629.2 268.6 L631.1 266.4 L633.0 264.1 L634.9 261.9 L636.8 259.5" fill="none" stroke="#00ffff" stroke-width="0.65"/>
<path d="M552.9 365.1 L551.0 364.2 L549.1 363.3 L547.2 362.4 L545.3 361.5 L543.4 360.5 L541.5 359.6 L539.6 358.7 L537.7 357.8 L535.8 356.9 L533.9 356.0 L532.0 355.1 L530.0 354.2 L528.1 353.3 L526.2 352.4 L524.3 351.5 L522.4 350.5 L520.5 349.6 L518.6 348.7 L516.7 347.8 L514.8 346.9 L512.9 346.0 L511.0 345.1 L509.1 344.2 L507.2 343.3 L505.3 342.4 L503.4 341.5 L501.5 340.5 L499.6 339.6 L497.6 338.7 L495.7 337.8 L493.8 336.9 L491.9 336.0 L490.0 335.1 L488.1 334.2 L486.2 333.3 L484.3 332.4 L482.4 331.4 L480.5 330.5 L478.6 329.6 L476.7 328.7 L474.8 327.8 L472.9 326.9 L471.0 326.0 L469.1 325.1 L467.1 324.2 L465.2 323.3 L463.3 322.4 L461.4 321.4 L459.5 320.5 L457.6 319.6 L455.7 318.7 L453.8 317.8 L451.9 316.9 L450.0 316.0 L448.1 315.1 L446.2 314.2 L444.3 313.3 L442.4 312.4 L440.5 311.4 L438.6 310.5 L436.6 309.6 L434.7 308.7 L432.8 307.8 L430.9 306.9 L429.0 306.0 L427.1 305.1 L425.2 304.2 L423.3 303.3 L421.4 302.3 L419.5 301.4 L417.6 300.5 L415.7 299.6 L413.8 298.7 L411.9 297.8 L410.0 296.9 L408.1 296.0 L406.1 295.1 L404.2 294.2 L402.3 293.3 L400.4 292.3 L398.5 291.4 L396.6 290.5 L394.7 289.6 L392.8 288.7 L390.9 287.8 L389.0 286.9 L387.1 286.0 L385.2 285.1 L383.3 284.2 L381.4 283.3 L379.5 282.3 L377.6 281.4 L375.6 280.5 L373.7 279.6 L371.8 278.7 L369.9 277.8" fill="none" stroke="#00ffff" stroke-width="0.65"/>
<path d="M446.2 334.5 L448.1 335.1 L450.0 335.7 L451.9 336.2 L453.8 336.7 L455.7 337.2 L457.6 337.7 L459.5 338.1 L461.4 338.5 L463.3 338.9 L465.2 339.2 L467.1 339.5 L469.1 339.8 L471.0 340.0 L472.9 340.2 L474.8 340.4 L476.7 340.5 L478.6 340.6 L480.5 340.7 L482.4 340.7 L484.3 340.7 L486.2 340.7 L488.1 340.6 L490.0 340.6 L491.9 340.4 L493.8 340.3 L495.7 340.1 L497.6 339.9 L499.6 339.6 L501.5 339.4 L503.4 339.0 L505.3 338.7 L507.2 338.3 L509.1 337.9 L511.0 337.5 L512.9 337.0 L514.8 336.5 L516.7 335.9 L518.6 335.4 L520.5 334.8 L522.4 334.1 L524.3 333.5 L526.2 332.8 L528.1 332.0 L530.0 331.3 L532.0 330.5 L533.9 329.6 L535.8 328.8 L537.7 327.9 L539.6 327.0 L541.5 326.0 L543.4 325.0 L545.3 324.0 L547.2 322.9 L549.1 321.8 L551.0 320.7 L552.9 319.6 L554.8 318.4 L556.7 317.2 L558.6 315.9 L560.5 314.7 L562.5 313.3 L564.4 312.0 L566.3 310.6 L568.2 309.2 L570.1 307.8 L572.0 306.3 L573.9 304.8 L575.8 303.3 L577.7 301.7 L579.6 300.1 L581.5 298.5 L583.4 296.8 L585.3 295.1 L587.2 293.4 L589.1 291.6 L591.0 289.8 L593.0 288.0 L594.9 286.1 L596.8 284.2 L598.7 282.3 L600.6 280.3 L602.5 278.4 L604.4 276.3 L606.3 274.3 L608.2 272.2 L610.1 270.1 L612.0 267.9 L613.9 265.8 L615.8 263.5 L617.7 261.3 L619.6 259.0 L621.5 256.7 L623.5 254.4 L625.4 252.0 L627.3 249.6 L629.2 247.2" fill="none" stroke="#00ffff" stroke-width="0.65"/>
<path d="M560.5 367.4 L558.6 366.3 L556.7 365.3 L554.8 364.3 L552.9 363.2 L551.0 362.2 L549.1 361.2 L547.2 360.1 L545.3 359.1 L543.4 358.0 L541.5 357.0 L539.6 356.0 L537.7 354.9 L535.8 353.9 L533.9 352.8 L532.0 351.8 L530.0 350.8 L528.1 349.7 L526.2 348.7 L524.3 347.7 L522.4 346.6 L520.5 345.6 L518.6 344.5 L516.7 343.5 L514.8 342.5 L512.9 341.4 L511.0 340.4 L509.1 339.4 L507.2 338.3 L505.3 337.3 L503.4 336.2 L501.5 335.2 L499.6 334.2 L497.6 333.1 L495.7 332.1 L493.8 331.0 L491.9 330.0 L490.0 329.0 L488.1 327.9 L486.2 326.9 L484.3 325.9 L482.4 324.8 L480.5 323.8 L478.6 322.7 L476.7 321.7 L474.8 320.7 L472.9 319.6 L471.0 318.6 L469.1 317.6 L467.1 316.5 L465.2 315.5 L463.3 314.4 L461.4 313.4 L459.5 312.4 L457.6 311.3 L455.7 310.3 L453.8 309.2 L451.9 308.2 L450.0 307.2 L448.1 306.1 L446.2 305.1 L444.3 304.1 L442.4 303.0 L440.5 302.0 L438.6 300.9 L436.6 299.9 L434.7 298.9 L432.8 297.8 L430.9 296.8 L429.0 295.7 L427.1 294.7 L425.2 293.7 L423.3 292.6 L421.4 291.6 L419.5 290.6 L417.6 289.5 L415.7 288.5 L413.8 287.4 L411.9 286.4 L410.0 285.4 L408.1 284.3 L406.1 283.3 L404.2 282.3 L402.3 281.2 L400.4 280.2 L398.5 279.1 L396.6 278.1 L394.7 277.1 L392.8 276.0 L390.9 275.0 L389.0 273.9 L387.1 272.9 L385.2 271.9 L383.3 270.8 L381.4 269.8 L379.5 268.8 L377.6 267.7" fill="none" stroke="#00ffff" stroke-width="0.65"/>
<path d="M438.6 334.4 L440.5 334.9 L442.4 335.4 L444.3 335.8 L446.2 336.2 L448.1 336.6 L450.0 336.9 L451.9 337.2 L453.8 337.4 L455.7 337.7 L457.6 337.9 L459.5 338.0 L461.4 338.2 L463.3 338.3 L465.2 338.4 L467.1 338.4 L469.1 338.4 L471.0 338.4 L472.9 338.3 L474.8 338.2 L476.7 338.1 L478.6 338.0 L480.5 337.8 L482.4 337.6 L484.3 337.3 L486.2 337.0 L488.1 336.7 L490.0 336.4 L491.9 336.0 L493.8 335.6 L495.7 335.1 L497.6 334.7 L499.6 334.2 L501.5 333.6 L503.4 333.0 L505.3 332.4 L507.2 331.8 L509.1 331.1 L511.0 330.4 L512.9 329.7 L514.8 328.9 L516.7 328.1 L518.6 327.3 L520.5 326.5 L522.4 325.6 L524.3 324.6 L526.2 323.7 L528.1 322.7 L530.0 321.7 L532.0 320.6 L533.9 319.5 L535.8 318.4 L537.7 317.3 L539.6 316.1 L541.5 314.9 L543.4 313.6 L545.3 312.3 L547.2 311.0 L549.1 309.7 L551.0 308.3 L552.9 306.9 L554.8 305.5 L556.7 304.0 L558.6 302.5 L560.5 300.9 L562.5 299.4 L564.4 297.8 L566.3 296.1 L568.2 294.5 L570.1 292.8 L572.0 291.0 L573.9 289.3 L575.8 287.5 L577.7 285.7 L579.6 283.8 L581.5 281.9 L583.4 280.0 L585.3 278.0 L587.2 276.0 L589.1 274.0 L591.0 272.0 L593.0 269.9 L594.9 267.8 L596.8 265.6 L598.7 263.4 L600.6 261.2 L602.5 259.0 L604.4 256.7 L606.3 254.4 L608.2 252.1 L610.1 249.7 L612.0 247.3 L613.9 244.8 L615.8 242.4 L617.7 239.9 L619.6 237.3 L621.5 234.8" fill="none" stroke="#00ffff" stroke-width="0.65"/>
<path d="M568.2 369.1 L566.3 368.0 L564.4 366.8 L562.5 365.6 L560.5 364.5 L558.6 363.3 L556.7 362.1 L554.8 361.0 L552.9 359.8 L551.0 358.6 L549.1 357.5 L547.2 356.3 L545.3 355.1 L543.4 354.0 L541.5 352.8 L539.6 351.6 L537.7 350.5 L535.8 349.3 L533.9 348.1 L532.0 347.0 L530.0 345.8 L528.1 344.6 L526.2 343.5 L524.3 342.3 L522.4 341.1 L520.5 340.0 L518.6 338.8 L516.7 337.6 L514.8 336.5 L512.9 335.3 L511.0 334.1 L509.1 333.0 L507.2 331.8 L505.3 330.6 L503.4 329.5 L501.5 328.3 L499.6 327.1 L497.6 326.0 L495.7 324.8 L493.8 323.6 L491.9 322.5 L490.0 321.3 L488.1 320.1 L486.2 319.0 L484.3 317.8 L482.4 316.6 L480.5 315.5 L478.6 314.3 L476.7 313.1 L474.8 312.0 L472.9 310.8 L471.0 309.6 L469.1 308.5 L467.1 307.3 L465.2 306.1 L463.3 305.0 L461.4 303.8 L459.5 302.6 L457.6 301.5 L455.7 300.3 L453.8 299.1 L451.9 298.0 L450.0 296.8 L448.1 295.6 L446.2 294.5 L444.3 293.3 L442.4 292.1 L440.5 291.0 L438.6 289.8 L436.6 288.6 L434.7 287.5 L432.8 286.3 L430.9 285.1 L429.0 284.0 L427.1 282.8 L425.2 281.6 L423.3 280.5 L421.4 279.3 L419.5 278.1 L417.6 277.0 L415.7 275.8 L413.8 274.6 L411.9 273.5 L410.0 272.3 L408.1 271.1 L406.1 270.0 L404.2 268.8 L402.3 267.6 L400.4 266.5 L398.5 265.3 L396.6 264.1 L394.7 263.0 L392.8 261.8 L390.9 260.6 L389.0 259.5 L387.1 258.3 L385.2 257.1" fill="none" stroke="#00ffff" stroke-width="0.65"/>
<path d="M430.9 334.4 L432.8 334.7 L434.7 335.1 L436.6 335.4 L438.6 335.6 L440.5 335.9 L442.4 336.1 L444.3 336.2 L446.2 336.4 L448.1 336.5 L450.0 336.6 L451.9 336.6 L453.8 336.6 L455.7 336.6 L457.6 336.5 L459.5 336.4 L461.4 336.3 L463.3 336.2 L465.2 336.0 L467.1 335.8 L469.1 335.5 L471.0 335.2 L472.9 334.9 L474.8 334.6 L476.7 334.2 L478.6 333.8 L480.5 333.3 L482.4 332.9 L484.3 332.4 L486.2 331.8 L488.1 331.2 L490.0 330.6 L491.9 330.0 L493.8 329.3 L495.7 328.6 L497.6 327.9 L499.6 327.1 L501.5 326.3 L503.4 325.5 L505.3 324.7 L507.2 323.8 L509.1 322.8 L511.0 321.9 L512.9 320.9 L514.8 319.9 L516.7 318.8 L518.6 317.7 L520.5 316.6 L522.4 315.5 L524.3 314.3 L526.2 313.1 L528.1 311.8 L530.0 310.5 L532.0 309.2 L533.9 307.9 L535.8 306.5 L537.7 305.1 L539.6 303.7 L541.5 302.2 L543.4 300.7 L545.3 299.1 L547.2 297.6 L549.1 296.0 L551.0 294.3 L552.9 292.7 L554.8 291.0 L556.7 289.2 L558.6 287.5 L560.5 285.7 L562.5 283.9 L564.4 282.0 L566.3 280.1 L568.2 278.2 L570.1 276.2 L572.0 274.2 L573.9 272.2 L575.8 270.2 L577.7 268.1 L579.6 266.0 L581.5 263.8 L583.4 261.6 L585.3 259.4 L587.2 257.2 L589.1 254.9 L591.0 252.6 L593.0 250.3 L594.9 247.9 L596.8 245.5 L598.7 243.0 L600.6 240.6 L602.5 238.1 L604.4 235.5 L606.3 233.0 L608.2 230.4 L610.1 227.7 L612.0 225.1 L613.9 222.4" fill="none" stroke="#00ffff" stroke-width="0.65"/>
<path d="M575.8 370.4 L573.9 369.1 L572.0 367.8 L570.1 366.5 L568.2 365.2 L566.3 363.9 L564.4 362.6 L562.5 361.3 L560.5 360.0 L558.6 358.7 L556.7 357.4 L554.8 356.2 L552.9 354.9 L551.0 353.6 L549.1 352.3 L547.2 351.0 L545.3 349.7 L543.4 348.4 L541.5 347.1 L539.6 345.8 L537.7 344.5 L535.8 343.2 L533.9 341.9 L532.0 340.6 L530.0 339.3 L528.1 338.0 L526.2 336.7 L524.3 335.4 L522.4 334.1 L520.5 332.8 L518.6 331.5 L516.7 330.2 L514.8 328.9 L512.9 327.6 L511.0 326.4 L509.1 325.1 L507.2 323.8 L505.3 322.5 L503.4 321.2 L501.5 319.9 L499.6 318.6 L497.6 317.3 L495.7 316.0 L493.8 314.7 L491.9 313.4 L490.0 312.1 L488.1 310.8 L486.2 309.5 L484.3 308.2 L482.4 306.9 L480.5 305.6 L478.6 304.3 L476.7 303.0 L474.8 301.7 L472.9 300.4 L471.0 299.1 L469.1 297.8 L467.1 296.6 L465.2 295.3 L463.3 294.0 L461.4 292.7 L459.5 291.4 L457.6 290.1 L455.7 288.8 L453.8 287.5 L451.9 286.2 L450.0 284.9 L448.1 283.6 L446.2 282.3 L444.3 281.0 L442.4 279.7 L440.5 278.4 L438.6 277.1 L436.6 275.8 L434.7 274.5 L432.8 273.2 L430.9 271.9 L429.0 270.6 L427.1 269.3 L425.2 268.1 L423.3 266.8 L421.4 265.5 L419.5 264.2 L417.6 262.9 L415.7 261.6 L413.8 260.3 L411.9 259.0 L410.0 257.7 L408.1 256.4 L406.1 255.1 L404.2 253.8 L402.3 252.5 L400.4 251.2 L398.5 249.9 L396.6 248.6 L394.7 247.3 L392.8 246.0" fill="none" stroke="#00ffff" stroke-width="0.65"/>
<path d="M423.3 334.4 L425.2 334.6 L427.1 334.8 L429.0 335.0 L430.9 335.1 L432.8 335.2 L434.7 335.3 L436.6 335.3 L438.6 335.3 L440.5 335.3 L442.4 335.2 L444.3 335.2 L446.2 335.0 L448.1 334.9 L450.0 334.7 L451.9 334.5 L453.8 334.2 L455.7 333.9 L457.6 333.6 L459.5 333.3 L461.4 332.9 L463.3 332.5 L465.2 332.1 L467.1 331.6 L469.1 331.1 L471.0 330.5 L472.9 330.0 L474.8 329.4 L476.7 328.7 L478.6 328.1 L480.5 327.4 L482.4 326.6 L484.3 325.9 L486.2 325.1 L488.1 324.2 L490.0 323.4 L491.9 322.5 L493.8 321.5 L495.7 320.6 L497.6 319.6 L499.6 318.6 L501.5 317.5 L503.4 316.4 L505.3 315.3 L507.2 314.2 L509.1 313.0 L511.0 311.8 L512.9 310.5 L514.8 309.2 L516.7 307.9 L518.6 306.6 L520.5 305.2 L522.4 303.8 L524.3 302.4 L526.2 300.9 L528.1 299.4 L530.0 297.8 L532.0 296.3 L533.9 294.7 L535.8 293.0 L537.7 291.4 L539.6 289.7 L541.5 288.0 L543.4 286.2 L545.3 284.4 L547.2 282.6 L549.1 280.7 L551.0 278.8 L552.9 276.9 L554.8 274.9 L556.7 273.0 L558.6 270.9 L560.5 268.9 L562.5 266.8 L564.4 264.7 L566.3 262.5 L568.2 260.3 L570.1 258.1 L572.0 255.9 L573.9 253.6 L575.8 251.3 L577.7 249.0 L579.6 246.6 L581.5 244.2 L583.4 241.7 L585.3 239.3 L587.2 236.8 L589.1 234.2 L591.0 231.7 L593.0 229.1 L594.9 226.4 L596.8 223.8 L598.7 221.1 L600.6 218.4 L602.5 215.6 L604.4 212.8 L606.3 210.0" fill="none" stroke="#00ffff" stroke-width="0.65"/>
<path d="M583.4 371.1 L581.5 369.7 L579.6 368.3 L577.7 366.9 L575.8 365.4 L573.9 364.0 L572.0 362.6 L570.1 361.2 L568.2 359.7 L566.3 358.3 L564.4 356.9 L562.5 355.5 L560.5 354.1 L558.6 352.6 L556.7 351.2 L554.8 349.8 L552.9 348.4 L551.0 346.9 L549.1 345.5 L547.2 344.1 L545.3 342.7 L543.4 341.2 L541.5 339.8 L539.6 338.4 L537.7 337.0 L535.8 335.5 L533.9 334.1 L532.0 332.7 L530.0 331.3 L528.1 329.8 L526.2 328.4 L524.3 327.0 L522.4 325.6 L520.5 324.1 L518.6 322.7 L516.7 321.3 L514.8 319.9 L512.9 318.4 L511.0 317.0 L509.1 315.6 L507.2 314.2 L505.3 312.7 L503.4 311.3 L501.5 309.9 L499.6 308.5 L497.6 307.0 L495.7 305.6 L493.8 304.2 L491.9 302.8 L490.0 301.4 L488.1 299.9 L486.2 298.5 L484.3 297.1 L482.4 295.7 L480.5 294.2 L478.6 292.8 L476.7 291.4 L474.8 290.0 L472.9 288.5 L471.0 287.1 L469.1 285.7 L467.1 284.3 L465.2 282.8 L463.3 281.4 L461.4 280.0 L459.5 278.6 L457.6 277.1 L455.7 275.7 L453.8 274.3 L451.9 272.9 L450.0 271.4 L448.1 270.0 L446.2 268.6 L444.3 267.2 L442.4 265.7 L440.5 264.3 L438.6 262.9 L436.6 261.5 L434.7 260.0 L432.8 258.6 L430.9 257.2 L429.0 255.8 L427.1 254.3 L425.2 252.9 L423.3 251.5 L421.4 250.1 L419.5 248.6 L417.6 247.2 L415.7 245.8 L413.8 244.4 L411.9 243.0 L410.0 241.5 L408.1 240.1 L406.1 238.7 L404.2 237.3 L402.3 235.8 L400.4 234.4" fill="none" stroke="#00ffff" stroke-width="0.65"/>
<path d="M415.7 334.3 L417.6 334.4 L419.5 334.5 L421.4 334.5 L423.3 334.5 L425.2 334.5 L427.1 334.5 L429.0 334.4 L430.9 334.3 L432.8 334.1 L434.7 333.9 L436.6 333.7 L438.6 333.5 L440.5 333.2 L442.4 332.9 L444.3 332.5 L446.2 332.1 L448.1 331.7 L450.0 331.3 L451.9 330.8 L453.8 330.3 L455.7 329.8 L457.6 329.2 L459.5 328.6 L461.4 327.9 L463.3 327.3 L465.2 326.6 L467.1 325.8 L469.1 325.1 L471.0 324.3 L472.9 323.5 L474.8 322.6 L476.7 321.7 L478.6 320.8 L480.5 319.8 L482.4 318.8 L484.3 317.8 L486.2 316.8 L488.1 315.7 L490.0 314.5 L491.9 313.4 L493.8 312.2 L495.7 311.0 L497.6 309.8 L499.6 308.5 L501.5 307.2 L503.4 305.8 L505.3 304.4 L507.2 303.0 L509.1 301.6 L511.0 300.1 L512.9 298.6 L514.8 297.1 L516.7 295.5 L518.6 293.9 L520.5 292.3 L522.4 290.6 L524.3 288.9 L526.2 287.2 L528.1 285.4 L530.0 283.6 L532.0 281.8 L533.9 279.9 L535.8 278.0 L537.7 276.1 L539.6 274.2 L541.5 272.2 L543.4 270.2 L545.3 268.1 L547.2 266.0 L549.1 263.9 L551.0 261.8 L552.9 259.6 L554.8 257.4 L556.7 255.1 L558.6 252.8 L560.5 250.5 L562.5 248.2 L564.4 245.8 L566.3 243.4 L568.2 241.0 L570.1 238.5 L572.0 236.0 L573.9 233.5 L575.8 230.9 L577.7 228.3 L579.6 225.7 L581.5 223.0 L583.4 220.3 L585.3 217.6 L587.2 214.8 L589.1 212.0 L591.0 209.2 L593.0 206.3 L594.9 203.5 L596.8 200.5 L598.7 197.6" fill="none" stroke="#00ffff" stroke-width="0.65"/>
<path d="M591.0 371.4 L589.1 369.8 L587.2 368.3 L585.3 366.7 L583.4 365.2 L581.5 363.6 L579.6 362.1 L577.7 360.5 L575.8 358.9 L573.9 357.4 L572.0 355.8 L570.1 354.3 L568.2 352.7 L566.3 351.2 L564.4 349.6 L562.5 348.1 L560.5 346.5 L558.6 345.0 L556.7 343.4 L554.8 341.9 L552.9 340.3 L551.0 338.8 L549.1 337.2 L547.2 335.6 L545.3 334.1 L543.4 332.5 L541.5 331.0 L539.6 329.4 L537.7 327.9 L535.8 326.3 L533.9 324.8 L532.0 323.2 L530.0 321.7 L528.1 320.1 L526.2 318.6 L524.3 317.0 L522.4 315.5 L520.5 313.9 L518.6 312.4 L516.7 310.8 L514.8 309.2 L512.9 307.7 L511.0 306.1 L509.1 304.6 L507.2 303.0 L505.3 301.5 L503.4 299.9 L501.5 298.4 L499.6 296.8 L497.6 295.3 L495.7 293.7 L493.8 292.2 L491.9 290.6 L490.0 289.1 L488.1 287.5 L486.2 285.9 L484.3 284.4 L482.4 282.8 L480.5 281.3 L478.6 279.7 L476.7 278.2 L474.8 276.6 L472.9 275.1 L471.0 273.5 L469.1 272.0 L467.1 270.4 L465.2 268.9 L463.3 267.3 L461.4 265.8 L459.5 264.2 L457.6 262.7 L455.7 261.1 L453.8 259.5 L451.9 258.0 L450.0 256.4 L448.1 254.9 L446.2 253.3 L444.3 251.8 L442.4 250.2 L440.5 248.7 L438.6 247.1 L436.6 245.6 L434.7 244.0 L432.8 242.5 L430.9 240.9 L429.0 239.4 L427.1 237.8 L425.2 236.2 L423.3 234.7 L421.4 233.1 L419.5 231.6 L417.6 230.0 L415.7 228.5 L413.8 226.9 L411.9 225.4 L410.0 223.8 L408.1 222.3" fill="none" stroke="#00ffff" stroke-width="0.65"/>
<path d="M408.1 334.3 L410.0 334.3 L411.9 334.2 L413.8 334.1 L415.7 334.0 L417.6 333.8 L419.5 333.7 L421.4 333.4 L423.3 333.2 L425.2 332.9 L427.1 332.6 L429.0 332.3 L430.9 331.9 L432.8 331.5 L434.7 331.0 L436.6 330.5 L438.6 330.0 L440.5 329.5 L442.4 328.9 L444.3 328.3 L446.2 327.7 L448.1 327.0 L450.0 326.3 L451.9 325.6 L453.8 324.8 L455.7 324.0 L457.6 323.2 L459.5 322.3 L461.4 321.4 L463.3 320.5 L465.2 319.6 L467.1 318.6 L469.1 317.6 L471.0 316.5 L472.9 315.4 L474.8 314.3 L476.7 313.1 L478.6 312.0 L480.5 310.7 L482.4 309.5 L484.3 308.2 L486.2 306.9 L488.1 305.6 L490.0 304.2 L491.9 302.8 L493.8 301.3 L495.7 299.9 L497.6 298.4 L499.6 296.8 L501.5 295.3 L503.4 293.6 L505.3 292.0 L507.2 290.4 L509.1 288.7 L511.0 286.9 L512.9 285.2 L514.8 283.4 L516.7 281.5 L518.6 279.7 L520.5 277.8 L522.4 275.9 L524.3 273.9 L526.2 271.9 L528.1 269.9 L530.0 267.8 L532.0 265.8 L533.9 263.6 L535.8 261.5 L537.7 259.3 L539.6 257.1 L541.5 254.9 L543.4 252.6 L545.3 250.3 L547.2 247.9 L549.1 245.6 L551.0 243.2 L552.9 240.7 L554.8 238.2 L556.7 235.7 L558.6 233.2 L560.5 230.6 L562.5 228.0 L564.4 225.4 L566.3 222.7 L568.2 220.0 L570.1 217.3 L572.0 214.6 L573.9 211.8 L575.8 208.9 L577.7 206.1 L579.6 203.2 L581.5 200.3 L583.4 197.3 L585.3 194.3 L587.2 191.3 L589.1 188.3 L591.0 185.2" fill="none" stroke="#00ffff" stroke-width="0.65"/>
<path d="M598.7 371.1 L596.8 369.4 L594.9 367.7 L593.0 366.0 L591.0 364.4 L589.1 362.7 L587.2 361.0 L585.3 359.3 L583.4 357.6 L581.5 355.9 L579.6 354.3 L577.7 352.6 L575.8 350.9 L573.9 349.2 L572.0 347.5 L570.1 345.9 L568.2 344.2 L566.3 342.5 L564.4 340.8 L562.5 339.1 L560.5 337.4 L558.6 335.8 L556.7 334.1 L554.8 332.4 L552.9 330.7 L551.0 329.0 L549.1 327.4 L547.2 325.7 L545.3 324.0 L543.4 322.3 L541.5 320.6 L539.6 318.9 L537.7 317.3 L535.8 315.6 L533.9 313.9 L532.0 312.2 L530.0 310.5 L528.1 308.9 L526.2 307.2 L524.3 305.5 L522.4 303.8 L520.5 302.1 L518.6 300.4 L516.7 298.8 L514.8 297.1 L512.9 295.4 L511.0 293.7 L509.1 292.0 L507.2 290.4 L505.3 288.7 L503.4 287.0 L501.5 285.3 L499.6 283.6 L497.6 281.9 L495.7 280.3 L493.8 278.6 L491.9 276.9 L490.0 275.2 L488.1 273.5 L486.2 271.8 L484.3 270.2 L482.4 268.5 L480.5 266.8 L478.6 265.1 L476.7 263.4 L474.8 261.8 L472.9 260.1 L471.0 258.4 L469.1 256.7 L467.1 255.0 L465.2 253.3 L463.3 251.7 L461.4 250.0 L459.5 248.3 L457.6 246.6 L455.7 244.9 L453.8 243.3 L451.9 241.6 L450.0 239.9 L448.1 238.2 L446.2 236.5 L444.3 234.8 L442.4 233.2 L440.5 231.5 L438.6 229.8 L436.6 228.1 L434.7 226.4 L432.8 224.8 L430.9 223.1 L429.0 221.4 L427.1 219.7 L425.2 218.0 L423.3 216.3 L421.4 214.7 L419.5 213.0 L417.6 211.3 L415.7 209.6" fill="none" stroke="#00ffff" stroke-width="0.65"/>
<path d="M400.4 334.3 L402.3 334.1 L404.2 333.9 L406.1 333.7 L408.1 333.5 L410.0 333.2 L411.9 332.9 L413.8 332.5 L415.7 332.1 L417.6 331.7 L419.5 331.3 L421.4 330.8 L423.3 330.3 L425.2 329.8 L427.1 329.2 L429.0 328.6 L430.9 327.9 L432.8 327.3 L434.7 326.6 L436.6 325.8 L438.6 325.1 L440.5 324.3 L442.4 323.5 L444.3 322.6 L446.2 321.7 L448.1 320.8 L450.0 319.8 L451.9 318.8 L453.8 317.8 L455.7 316.8 L457.6 315.7 L459.5 314.5 L461.4 313.4 L463.3 312.2 L465.2 311.0 L467.1 309.8 L469.1 308.5 L471.0 307.2 L472.9 305.8 L474.8 304.4 L476.7 303.0 L478.6 301.6 L480.5 300.1 L482.4 298.6 L484.3 297.1 L486.2 295.5 L488.1 293.9 L490.0 292.3 L491.9 290.6 L493.8 288.9 L495.7 287.2 L497.6 285.4 L499.6 283.6 L501.5 281.8 L503.4 279.9 L505.3 278.0 L507.2 276.1 L509.1 274.2 L511.0 272.2 L512.9 270.2 L514.8 268.1 L516.7 266.0 L518.6 263.9 L520.5 261.8 L522.4 259.6 L524.3 257.4 L526.2 255.1 L528.1 252.8 L530.0 250.5 L532.0 248.2 L533.9 245.8 L535.8 243.4 L537.7 241.0 L539.6 238.5 L541.5 236.0 L543.4 233.5 L545.3 230.9 L547.2 228.3 L549.1 225.7 L551.0 223.0 L552.9 220.3 L554.8 217.6 L556.7 214.8 L558.6 212.0 L560.5 209.2 L562.5 206.3 L564.4 203.5 L566.3 200.5 L568.2 197.6 L570.1 194.6 L572.0 191.6 L573.9 188.5 L575.8 185.4 L577.7 182.3 L579.6 179.2 L581.5 176.0 L583.4 172.8" fill="none" stroke="#00ffff" stroke-width="0.65"/>
<path d="M606.3 370.3 L604.4 368.5 L602.5 366.7 L600.6 364.8 L598.7 363.0 L596.8 361.2 L594.9 359.4 L593.0 357.6 L591.0 355.8 L589.1 354.0 L587.2 352.2 L585.3 350.4 L583.4 348.5 L581.5 346.7 L579.6 344.9 L577.7 343.1 L575.8 341.3 L573.9 339.5 L572.0 337.7 L570.1 335.9 L568.2 334.1 L566.3 332.3 L564.4 330.4 L562.5 328.6 L560.5 326.8 L558.6 325.0 L556.7 323.2 L554.8 321.4 L552.9 319.6 L551.0 317.8 L549.1 316.0 L547.2 314.1 L545.3 312.3 L543.4 310.5 L541.5 308.7 L539.6 306.9 L537.7 305.1 L535.8 303.3 L533.9 301.5 L532.0 299.7 L530.0 297.8 L528.1 296.0 L526.2 294.2 L524.3 292.4 L522.4 290.6 L520.5 288.8 L518.6 287.0 L516.7 285.2 L514.8 283.4 L512.9 281.6 L511.0 279.7 L509.1 277.9 L507.2 276.1 L505.3 274.3 L503.4 272.5 L501.5 270.7 L499.6 268.9 L497.6 267.1 L495.7 265.3 L493.8 263.4 L491.9 261.6 L490.0 259.8 L488.1 258.0 L486.2 256.2 L484.3 254.4 L482.4 252.6 L480.5 250.8 L478.6 249.0 L476.7 247.2 L474.8 245.3 L472.9 243.5 L471.0 241.7 L469.1 239.9 L467.1 238.1 L465.2 236.3 L463.3 234.5 L461.4 232.7 L459.5 230.9 L457.6 229.0 L455.7 227.2 L453.8 225.4 L451.9 223.6 L450.0 221.8 L448.1 220.0 L446.2 218.2 L444.3 216.4 L442.4 214.6 L440.5 212.8 L438.6 210.9 L436.6 209.1 L434.7 207.3 L432.8 205.5 L430.9 203.7 L429.0 201.9 L427.1 200.1 L425.2 198.3 L423.3 196.5" fill="none" stroke="#00ffff" stroke-width="0.65"/>
<path d="M392.8 334.2 L394.7 333.9 L396.6 333.6 L398.5 333.3 L400.4 332.9 L402.3 332.5 L404.2 332.1 L406.1 331.6 L408.1 331.1 L410.0 330.5 L411.9 330.0 L413.8 329.4 L415.7 328.7 L417.6 328.1 L419.5 327.4 L421.4 326.6 L423.3 325.9 L425.2 325.1 L427.1 324.2 L429.0 323.4 L430.9 322.5 L432.8 321.5 L434.7 320.6 L436.6 319.6 L438.6 318.6 L440.5 317.5 L442.4 316.4 L444.3 315.3 L446.2 314.2 L448.1 313.0 L450.0 311.8 L451.9 310.5 L453.8 309.2 L455.7 307.9 L457.6 306.6 L459.5 305.2 L461.4 303.8 L463.3 302.4 L465.2 300.9 L467.1 299.4 L469.1 297.8 L471.0 296.3 L472.9 294.7 L474.8 293.0 L476.7 291.4 L478.6 289.7 L480.5 288.0 L482.4 286.2 L484.3 284.4 L486.2 282.6 L488.1 280.7 L490.0 278.8 L491.9 276.9 L493.8 274.9 L495.7 273.0 L497.6 270.9 L499.6 268.9 L501.5 266.8 L503.4 264.7 L505.3 262.5 L507.2 260.3 L509.1 258.1 L511.0 255.9 L512.9 253.6 L514.8 251.3 L516.7 249.0 L518.6 246.6 L520.5 244.2 L522.4 241.7 L524.3 239.3 L526.2 236.8 L528.1 234.2 L530.0 231.7 L532.0 229.1 L533.9 226.4 L535.8 223.8 L537.7 221.1 L539.6 218.4 L541.5 215.6 L543.4 212.8 L545.3 210.0 L547.2 207.1 L549.1 204.2 L551.0 201.3 L552.9 198.4 L554.8 195.4 L556.7 192.4 L558.6 189.3 L560.5 186.2 L562.5 183.1 L564.4 180.0 L566.3 176.8 L568.2 173.6 L570.1 170.3 L572.0 167.1 L573.9 163.7 L575.8 160.4" fill="none" stroke="#00ffff" stroke-width="0.65"/>
<path d="M613.9 369.0 L612.0 367.0 L610.1 365.1 L608.2 363.1 L606.3 361.2 L604.4 359.3 L602.5 357.3 L600.6 355.4 L598.7 353.4 L596.8 351.5 L594.9 349.6 L593.0 347.6 L591.0 345.7 L589.1 343.7 L587.2 341.8 L585.3 339.9 L583.4 337.9 L581.5 336.0 L579.6 334.0 L577.7 332.1 L575.8 330.2 L573.9 328.2 L572.0 326.3 L570.1 324.3 L568.2 322.4 L566.3 320.5 L564.4 318.5 L562.5 316.6 L560.5 314.7 L558.6 312.7 L556.7 310.8 L554.8 308.8 L552.9 306.9 L551.0 305.0 L549.1 303.0 L547.2 301.1 L545.3 299.1 L543.4 297.2 L541.5 295.3 L539.6 293.3 L537.7 291.4 L535.8 289.4 L533.9 287.5 L532.0 285.6 L530.0 283.6 L528.1 281.7 L526.2 279.7 L524.3 277.8 L522.4 275.9 L520.5 273.9 L518.6 272.0 L516.7 270.0 L514.8 268.1 L512.9 266.2 L511.0 264.2 L509.1 262.3 L507.2 260.3 L505.3 258.4 L503.4 256.5 L501.5 254.5 L499.6 252.6 L497.6 250.7 L495.7 248.7 L493.8 246.8 L491.9 244.8 L490.0 242.9 L488.1 241.0 L486.2 239.0 L484.3 237.1 L482.4 235.1 L480.5 233.2 L478.6 231.3 L476.7 229.3 L474.8 227.4 L472.9 225.4 L471.0 223.5 L469.1 221.6 L467.1 219.6 L465.2 217.7 L463.3 215.7 L461.4 213.8 L459.5 211.9 L457.6 209.9 L455.7 208.0 L453.8 206.0 L451.9 204.1 L450.0 202.2 L448.1 200.2 L446.2 198.3 L444.3 196.4 L442.4 194.4 L440.5 192.5 L438.6 190.5 L436.6 188.6 L434.7 186.7 L432.8 184.7 L430.9 182.8" fill="none" stroke="#00ffff" stroke-width="0.65"/>
<path d="M385.2 334.2 L387.1 333.8 L389.0 333.3 L390.9 332.9 L392.8 332.4 L394.7 331.8 L396.6 331.2 L398.5 330.6 L400.4 330.0 L402.3 329.3 L404.2 328.6 L406.1 327.9 L408.1 327.1 L410.0 326.3 L411.9 325.5 L413.8 324.7 L415.7 323.8 L417.6 322.8 L419.5 321.9 L421.4 320.9 L423.3 319.9 L425.2 318.8 L427.1 317.7 L429.0 316.6 L430.9 315.5 L432.8 314.3 L434.7 313.1 L436.6 311.8 L438.6 310.5 L440.5 309.2 L442.4 307.9 L444.3 306.5 L446.2 305.1 L448.1 303.7 L450.0 302.2 L451.9 300.7 L453.8 299.1 L455.7 297.6 L457.6 296.0 L459.5 294.3 L461.4 292.7 L463.3 291.0 L465.2 289.2 L467.1 287.5 L469.1 285.7 L471.0 283.9 L472.9 282.0 L474.8 280.1 L476.7 278.2 L478.6 276.2 L480.5 274.2 L482.4 272.2 L484.3 270.2 L486.2 268.1 L488.1 266.0 L490.0 263.8 L491.9 261.6 L493.8 259.4 L495.7 257.2 L497.6 254.9 L499.6 252.6 L501.5 250.3 L503.4 247.9 L505.3 245.5 L507.2 243.0 L509.1 240.6 L511.0 238.1 L512.9 235.5 L514.8 233.0 L516.7 230.4 L518.6 227.7 L520.5 225.1 L522.4 222.4 L524.3 219.6 L526.2 216.9 L528.1 214.1 L530.0 211.3 L532.0 208.4 L533.9 205.5 L535.8 202.6 L537.7 199.6 L539.6 196.7 L541.5 193.6 L543.4 190.6 L545.3 187.5 L547.2 184.4 L549.1 181.2 L551.0 178.1 L552.9 174.9 L554.8 171.6 L556.7 168.3 L558.6 165.0 L560.5 161.7 L562.5 158.3 L564.4 154.9 L566.3 151.5 L568.2 148.0" fill="none" stroke="#00ffff" stroke-width="0.65"/>
<path d="M621.5 367.1 L619.6 365.1 L617.7 363.0 L615.8 360.9 L613.9 358.8 L612.0 356.8 L610.1 354.7 L608.2 352.6 L606.3 350.6 L604.4 348.5 L602.5 346.4 L600.6 344.4 L598.7 342.3 L596.8 340.2 L594.9 338.2 L593.0 336.1 L591.0 334.0 L589.1 332.0 L587.2 329.9 L585.3 327.8 L583.4 325.8 L581.5 323.7 L579.6 321.6 L577.7 319.6 L575.8 317.5 L573.9 315.4 L572.0 313.3 L570.1 311.3 L568.2 309.2 L566.3 307.1 L564.4 305.1 L562.5 303.0 L560.5 300.9 L558.6 298.9 L556.7 296.8 L554.8 294.7 L552.9 292.7 L551.0 290.6 L549.1 288.5 L547.2 286.5 L545.3 284.4 L543.4 282.3 L541.5 280.3 L539.6 278.2 L537.7 276.1 L535.8 274.1 L533.9 272.0 L532.0 269.9 L530.0 267.8 L528.1 265.8 L526.2 263.7 L524.3 261.6 L522.4 259.6 L520.5 257.5 L518.6 255.4 L516.7 253.4 L514.8 251.3 L512.9 249.2 L511.0 247.2 L509.1 245.1 L507.2 243.0 L505.3 241.0 L503.4 238.9 L501.5 236.8 L499.6 234.8 L497.6 232.7 L495.7 230.6 L493.8 228.6 L491.9 226.5 L490.0 224.4 L488.1 222.4 L486.2 220.3 L484.3 218.2 L482.4 216.1 L480.5 214.1 L478.6 212.0 L476.7 209.9 L474.8 207.9 L472.9 205.8 L471.0 203.7 L469.1 201.7 L467.1 199.6 L465.2 197.5 L463.3 195.5 L461.4 193.4 L459.5 191.3 L457.6 189.3 L455.7 187.2 L453.8 185.1 L451.9 183.1 L450.0 181.0 L448.1 178.9 L446.2 176.9 L444.3 174.8 L442.4 172.7 L440.5 170.6 L438.6 168.6" fill="none" stroke="#00ffff" stroke-width="0.65"/>
<path d="M377.6 334.2 L379.5 333.6 L381.4 333.0 L383.3 332.4 L385.2 331.8 L387.1 331.1 L389.0 330.4 L390.9 329.7 L392.8 328.9 L394.7 328.1 L396.6 327.3 L398.5 326.5 L400.4 325.6 L402.3 324.6 L404.2 323.7 L406.1 322.7 L408.1 321.7 L410.0 320.6 L411.9 319.5 L413.8 318.4 L415.7 317.3 L417.6 316.1 L419.5 314.9 L421.4 313.6 L423.3 312.3 L425.2 311.0 L427.1 309.7 L429.0 308.3 L430.9 306.9 L432.8 305.5 L434.7 304.0 L436.6 302.5 L438.6 300.9 L440.5 299.4 L442.4 297.8 L444.3 296.1 L446.2 294.5 L448.1 292.8 L450.0 291.0 L451.9 289.3 L453.8 287.5 L455.7 285.7 L457.6 283.8 L459.5 281.9 L461.4 280.0 L463.3 278.0 L465.2 276.0 L467.1 274.0 L469.1 272.0 L471.0 269.9 L472.9 267.8 L474.8 265.6 L476.7 263.4 L478.6 261.2 L480.5 259.0 L482.4 256.7 L484.3 254.4 L486.2 252.1 L488.1 249.7 L490.0 247.3 L491.9 244.8 L493.8 242.4 L495.7 239.9 L497.6 237.3 L499.6 234.8 L501.5 232.2 L503.4 229.5 L505.3 226.9 L507.2 224.2 L509.1 221.4 L511.0 218.7 L512.9 215.9 L514.8 213.1 L516.7 210.2 L518.6 207.3 L520.5 204.4 L522.4 201.4 L524.3 198.5 L526.2 195.4 L528.1 192.4 L530.0 189.3 L532.0 186.2 L533.9 183.0 L535.8 179.9 L537.7 176.7 L539.6 173.4 L541.5 170.1 L543.4 166.8 L545.3 163.5 L547.2 160.1 L549.1 156.7 L551.0 153.3 L552.9 149.8 L554.8 146.3 L556.7 142.8 L558.6 139.2 L560.5 135.6" fill="none" stroke="#00ffff" stroke-width="0.65"/>
<path d="M629.2 364.8 L627.3 362.6 L625.4 360.4 L623.5 358.2 L621.5 356.0 L619.6 353.8 L617.7 351.6 L615.8 349.4 L613.9 347.2 L612.0 345.0 L610.1 342.8 L608.2 340.6 L606.3 338.4 L604.4 336.2 L602.5 334.0 L600.6 331.8 L598.7 329.6 L596.8 327.4 L594.9 325.2 L593.0 323.0 L591.0 320.8 L589.1 318.6 L587.2 316.4 L585.3 314.2 L583.4 312.0 L581.5 309.8 L579.6 307.7 L577.7 305.5 L575.8 303.3 L573.9 301.1 L572.0 298.9 L570.1 296.7 L568.2 294.5 L566.3 292.3 L564.4 290.1 L562.5 287.9 L560.5 285.7 L558.6 283.5 L556.7 281.3 L554.8 279.1 L552.9 276.9 L551.0 274.7 L549.1 272.5 L547.2 270.3 L545.3 268.1 L543.4 265.9 L541.5 263.7 L539.6 261.5 L537.7 259.3 L535.8 257.1 L533.9 254.9 L532.0 252.7 L530.0 250.5 L528.1 248.3 L526.2 246.1 L524.3 243.9 L522.4 241.7 L520.5 239.5 L518.6 237.4 L516.7 235.2 L514.8 233.0 L512.9 230.8 L511.0 228.6 L509.1 226.4 L507.2 224.2 L505.3 222.0 L503.4 219.8 L501.5 217.6 L499.6 215.4 L497.6 213.2 L495.7 211.0 L493.8 208.8 L491.9 206.6 L490.0 204.4 L488.1 202.2 L486.2 200.0 L484.3 197.8 L482.4 195.6 L480.5 193.4 L478.6 191.2 L476.7 189.0 L474.8 186.8 L472.9 184.6 L471.0 182.4 L469.1 180.2 L467.1 178.0 L465.2 175.8 L463.3 173.6 L461.4 171.4 L459.5 169.2 L457.6 167.1 L455.7 164.9 L453.8 162.7 L451.9 160.5 L450.0 158.3 L448.1 156.1 L446.2 153.9" fill="none" stroke="#00ffff" stroke-width="0.65"/>
<path d="M369.9 334.1 L371.8 333.5 L373.7 332.8 L375.6 332.0 L377.6 331.3 L379.5 330.5 L381.4 329.6 L383.3 328.8 L385.2 327.9 L387.1 327.0 L389.0 326.0 L390.9 325.0 L392.8 324.0 L394.7 322.9 L396.6 321.8 L398.5 320.7 L400.4 319.6 L402.3 318.4 L404.2 317.2 L406.1 315.9 L408.1 314.7 L410.0 313.3 L411.9 312.0 L413.8 310.6 L415.7 309.2 L417.6 307.8 L419.5 306.3 L421.4 304.8 L423.3 303.3 L425.2 301.7 L427.1 300.1 L429.0 298.5 L430.9 296.8 L432.8 295.1 L434.7 293.4 L436.6 291.6 L438.6 289.8 L440.5 288.0 L442.4 286.1 L444.3 284.2 L446.2 282.3 L448.1 280.3 L450.0 278.4 L451.9 276.3 L453.8 274.3 L455.7 272.2 L457.6 270.1 L459.5 267.9 L461.4 265.8 L463.3 263.5 L465.2 261.3 L467.1 259.0 L469.1 256.7 L471.0 254.4 L472.9 252.0 L474.8 249.6 L476.7 247.2 L478.6 244.7 L480.5 242.2 L482.4 239.6 L484.3 237.1 L486.2 234.5 L488.1 231.8 L490.0 229.2 L491.9 226.5 L493.8 223.8 L495.7 221.0 L497.6 218.2 L499.6 215.4 L501.5 212.5 L503.4 209.6 L505.3 206.7 L507.2 203.8 L509.1 200.8 L511.0 197.8 L512.9 194.7 L514.8 191.6 L516.7 188.5 L518.6 185.4 L520.5 182.2 L522.4 179.0 L524.3 175.7 L526.2 172.5 L528.1 169.2 L530.0 165.8 L532.0 162.4 L533.9 159.0 L535.8 155.6 L537.7 152.1 L539.6 148.6 L541.5 145.1 L543.4 141.5 L545.3 137.9 L547.2 134.3 L549.1 130.6 L551.0 127.0 L552.9 123.2" fill="none" stroke="#00ffff" stroke-width="0.65"/>
<path d="M636.8 361.9 L634.9 359.6 L633.0 357.3 L631.1 354.9 L629.2 352.6 L627.3 350.3 L625.4 348.0 L623.5 345.6 L621.5 343.3 L619.6 341.0 L617.7 338.6 L615.8 336.3 L613.9 334.0 L612.0 331.7 L610.1 329.3 L608.2 327.0 L606.3 324.7 L604.4 322.4 L602.5 320.0 L600.6 317.7 L598.7 315.4 L596.8 313.1 L594.9 310.7 L593.0 308.4 L591.0 306.1 L589.1 303.8 L587.2 301.4 L585.3 299.1 L583.4 296.8 L581.5 294.5 L579.6 292.1 L577.7 289.8 L575.8 287.5 L573.9 285.2 L572.0 282.8 L570.1 280.5 L568.2 278.2 L566.3 275.9 L564.4 273.5 L562.5 271.2 L560.5 268.9 L558.6 266.6 L556.7 264.2 L554.8 261.9 L552.9 259.6 L551.0 257.3 L549.1 254.9 L547.2 252.6 L545.3 250.3 L543.4 247.9 L541.5 245.6 L539.6 243.3 L537.7 241.0 L535.8 238.6 L533.9 236.3 L532.0 234.0 L530.0 231.7 L528.1 229.3 L526.2 227.0 L524.3 224.7 L522.4 222.4 L520.5 220.0 L518.6 217.7 L516.7 215.4 L514.8 213.1 L512.9 210.7 L511.0 208.4 L509.1 206.1 L507.2 203.8 L505.3 201.4 L503.4 199.1 L501.5 196.8 L499.6 194.5 L497.6 192.1 L495.7 189.8 L493.8 187.5 L491.9 185.2 L490.0 182.8 L488.1 180.5 L486.2 178.2 L484.3 175.9 L482.4 173.5 L480.5 171.2 L478.6 168.9 L476.7 166.6 L474.8 164.2 L472.9 161.9 L471.0 159.6 L469.1 157.2 L467.1 154.9 L465.2 152.6 L463.3 150.3 L461.4 147.9 L459.5 145.6 L457.6 143.3 L455.7 141.0 L453.8 138.6" fill="none" stroke="#00ffff" stroke-width="0.65"/>
<path d="M362.3 334.1 L364.2 333.3 L366.1 332.5 L368.0 331.6 L369.9 330.7 L371.8 329.8 L373.7 328.8 L375.6 327.8 L377.6 326.8 L379.5 325.8 L381.4 324.7 L383.3 323.6 L385.2 322.4 L387.1 321.2 L389.0 320.0 L390.9 318.8 L392.8 317.5 L394.7 316.2 L396.6 314.8 L398.5 313.5 L400.4 312.0 L402.3 310.6 L404.2 309.1 L406.1 307.6 L408.1 306.1 L410.0 304.5 L411.9 302.9 L413.8 301.3 L415.7 299.6 L417.6 297.9 L419.5 296.2 L421.4 294.4 L423.3 292.6 L425.2 290.8 L427.1 288.9 L429.0 287.1 L430.9 285.1 L432.8 283.2 L434.7 281.2 L436.6 279.2 L438.6 277.1 L440.5 275.0 L442.4 272.9 L444.3 270.8 L446.2 268.6 L448.1 266.4 L450.0 264.1 L451.9 261.9 L453.8 259.5 L455.7 257.2 L457.6 254.8 L459.5 252.4 L461.4 250.0 L463.3 247.5 L465.2 245.0 L467.1 242.5 L469.1 239.9 L471.0 237.3 L472.9 234.7 L474.8 232.0 L476.7 229.3 L478.6 226.6 L480.5 223.8 L482.4 221.0 L484.3 218.2 L486.2 215.4 L488.1 212.5 L490.0 209.5 L491.9 206.6 L493.8 203.6 L495.7 200.6 L497.6 197.5 L499.6 194.5 L501.5 191.3 L503.4 188.2 L505.3 185.0 L507.2 181.8 L509.1 178.6 L511.0 175.3 L512.9 172.0 L514.8 168.6 L516.7 165.3 L518.6 161.9 L520.5 158.4 L522.4 155.0 L524.3 151.5 L526.2 147.9 L528.1 144.4 L530.0 140.8 L532.0 137.1 L533.9 133.5 L535.8 129.8 L537.7 126.1 L539.6 122.3 L541.5 118.5 L543.4 114.7 L545.3 110.8" fill="none" stroke="#00ffff" stroke-width="0.65"/>
<path d="M644.4 358.5 L642.5 356.1 L640.6 353.6 L638.7 351.2 L636.8 348.7 L634.9 346.3 L633.0 343.8 L631.1 341.3 L629.2 338.9 L627.3 336.4 L625.4 334.0 L623.5 331.5 L621.5 329.1 L619.6 326.6 L617.7 324.2 L615.8 321.7 L613.9 319.3 L612.0 316.8 L610.1 314.3 L608.2 311.9 L606.3 309.4 L604.4 307.0 L602.5 304.5 L600.6 302.1 L598.7 299.6 L596.8 297.2 L594.9 294.7 L593.0 292.3 L591.0 289.8 L589.1 287.3 L587.2 284.9 L585.3 282.4 L583.4 280.0 L581.5 277.5 L579.6 275.1 L577.7 272.6 L575.8 270.2 L573.9 267.7 L572.0 265.3 L570.1 262.8 L568.2 260.3 L566.3 257.9 L564.4 255.4 L562.5 253.0 L560.5 250.5 L558.6 248.1 L556.7 245.6 L554.8 243.2 L552.9 240.7 L551.0 238.3 L549.1 235.8 L547.2 233.4 L545.3 230.9 L543.4 228.4 L541.5 226.0 L539.6 223.5 L537.7 221.1 L535.8 218.6 L533.9 216.2 L532.0 213.7 L530.0 211.3 L528.1 208.8 L526.2 206.4 L524.3 203.9 L522.4 201.4 L520.5 199.0 L518.6 196.5 L516.7 194.1 L514.8 191.6 L512.9 189.2 L511.0 186.7 L509.1 184.3 L507.2 181.8 L505.3 179.4 L503.4 176.9 L501.5 174.4 L499.6 172.0 L497.6 169.5 L495.7 167.1 L493.8 164.6 L491.9 162.2 L490.0 159.7 L488.1 157.3 L486.2 154.8 L484.3 152.4 L482.4 149.9 L480.5 147.4 L478.6 145.0 L476.7 142.5 L474.8 140.1 L472.9 137.6 L471.0 135.2 L469.1 132.7 L467.1 130.3 L465.2 127.8 L463.3 125.4 L461.4 122.9" fill="none" stroke="#00ffff" stroke-width="0.65"/>
<path d="M354.7 334.1 L356.6 333.1 L358.5 332.2 L360.4 331.2 L362.3 330.2 L364.2 329.1 L366.1 328.0 L368.0 326.9 L369.9 325.8 L371.8 324.6 L373.7 323.4 L375.6 322.1 L377.6 320.8 L379.5 319.5 L381.4 318.2 L383.3 316.8 L385.2 315.4 L387.1 314.0 L389.0 312.5 L390.9 311.0 L392.8 309.4 L394.7 307.9 L396.6 306.3 L398.5 304.6 L400.4 303.0 L402.3 301.3 L404.2 299.5 L406.1 297.8 L408.1 296.0 L410.0 294.2 L411.9 292.3 L413.8 290.4 L415.7 288.5 L417.6 286.5 L419.5 284.5 L421.4 282.5 L423.3 280.5 L425.2 278.4 L427.1 276.3 L429.0 274.1 L430.9 271.9 L432.8 269.7 L434.7 267.5 L436.6 265.2 L438.6 262.9 L440.5 260.6 L442.4 258.2 L444.3 255.8 L446.2 253.3 L448.1 250.9 L450.0 248.4 L451.9 245.8 L453.8 243.3 L455.7 240.7 L457.6 238.0 L459.5 235.4 L461.4 232.7 L463.3 229.9 L465.2 227.2 L467.1 224.4 L469.1 221.6 L471.0 218.7 L472.9 215.8 L474.8 212.9 L476.7 209.9 L478.6 207.0 L480.5 203.9 L482.4 200.9 L484.3 197.8 L486.2 194.7 L488.1 191.5 L490.0 188.4 L491.9 185.2 L493.8 181.9 L495.7 178.6 L497.6 175.3 L499.6 172.0 L501.5 168.6 L503.4 165.2 L505.3 161.8 L507.2 158.3 L509.1 154.8 L511.0 151.3 L512.9 147.7 L514.8 144.1 L516.7 140.5 L518.6 136.8 L520.5 133.1 L522.4 129.4 L524.3 125.6 L526.2 121.9 L528.1 118.0 L530.0 114.2 L532.0 110.3 L533.9 106.4 L535.8 102.4 L537.7 98.4" fill="none" stroke="#00ffff" stroke-width="0.65"/>
<path d="M652.0 354.6 L650.1 352.0 L648.2 349.5 L646.3 346.9 L644.4 344.3 L642.5 341.7 L640.6 339.1 L638.7 336.5 L636.8 334.0 L634.9 331.4 L633.0 328.8 L631.1 326.2 L629.2 323.6 L627.3 321.0 L625.4 318.5 L623.5 315.9 L621.5 313.3 L619.6 310.7 L617.7 308.1 L615.8 305.6 L613.9 303.0 L612.0 300.4 L610.1 297.8 L608.2 295.2 L606.3 292.6 L604.4 290.1 L602.5 287.5 L600.6 284.9 L598.7 282.3 L596.8 279.7 L594.9 277.1 L593.0 274.6 L591.0 272.0 L589.1 269.4 L587.2 266.8 L585.3 264.2 L583.4 261.6 L581.5 259.1 L579.6 256.5 L577.7 253.9 L575.8 251.3 L573.9 248.7 L572.0 246.1 L570.1 243.6 L568.2 241.0 L566.3 238.4 L564.4 235.8 L562.5 233.2 L560.5 230.6 L558.6 228.1 L556.7 225.5 L554.8 222.9 L552.9 220.3 L551.0 217.7 L549.1 215.1 L547.2 212.6 L545.3 210.0 L543.4 207.4 L541.5 204.8 L539.6 202.2 L537.7 199.6 L535.8 197.1 L533.9 194.5 L532.0 191.9 L530.0 189.3 L528.1 186.7 L526.2 184.1 L524.3 181.6 L522.4 179.0 L520.5 176.4 L518.6 173.8 L516.7 171.2 L514.8 168.6 L512.9 166.1 L511.0 163.5 L509.1 160.9 L507.2 158.3 L505.3 155.7 L503.4 153.1 L501.5 150.6 L499.6 148.0 L497.6 145.4 L495.7 142.8 L493.8 140.2 L491.9 137.6 L490.0 135.1 L488.1 132.5 L486.2 129.9 L484.3 127.3 L482.4 124.7 L480.5 122.1 L478.6 119.6 L476.7 117.0 L474.8 114.4 L472.9 111.8 L471.0 109.2 L469.1 106.6" fill="none" stroke="#00ffff" stroke-width="0.65"/>
<path d="M347.1 334.0 L349.0 333.0 L350.9 331.9 L352.8 330.8 L354.7 329.6 L356.6 328.4 L358.5 327.2 L360.4 326.0 L362.3 324.7 L364.2 323.4 L366.1 322.0 L368.0 320.7 L369.9 319.3 L371.8 317.8 L373.7 316.3 L375.6 314.8 L377.6 313.3 L379.5 311.7 L381.4 310.1 L383.3 308.5 L385.2 306.8 L387.1 305.1 L389.0 303.4 L390.9 301.6 L392.8 299.8 L394.7 298.0 L396.6 296.2 L398.5 294.3 L400.4 292.3 L402.3 290.4 L404.2 288.4 L406.1 286.4 L408.1 284.3 L410.0 282.2 L411.9 280.1 L413.8 278.0 L415.7 275.8 L417.6 273.6 L419.5 271.3 L421.4 269.1 L423.3 266.8 L425.2 264.4 L427.1 262.0 L429.0 259.6 L430.9 257.2 L432.8 254.7 L434.7 252.2 L436.6 249.7 L438.6 247.1 L440.5 244.5 L442.4 241.9 L444.3 239.2 L446.2 236.5 L448.1 233.8 L450.0 231.0 L451.9 228.2 L453.8 225.4 L455.7 222.6 L457.6 219.7 L459.5 216.8 L461.4 213.8 L463.3 210.8 L465.2 207.8 L467.1 204.8 L469.1 201.7 L471.0 198.6 L472.9 195.4 L474.8 192.2 L476.7 189.0 L478.6 185.8 L480.5 182.5 L482.4 179.2 L484.3 175.9 L486.2 172.5 L488.1 169.1 L490.0 165.6 L491.9 162.2 L493.8 158.7 L495.7 155.1 L497.6 151.6 L499.6 148.0 L501.5 144.4 L503.4 140.7 L505.3 137.0 L507.2 133.3 L509.1 129.5 L511.0 125.7 L512.9 121.9 L514.8 118.0 L516.7 114.2 L518.6 110.2 L520.5 106.3 L522.4 102.3 L524.3 98.3 L526.2 94.2 L528.1 90.2 L530.0 86.0" fill="none" stroke="#00ffff" stroke-width="0.65"/>
<path d="M659.7 350.2 L657.8 347.5 L655.9 344.8 L654.0 342.1 L652.0 339.4 L650.1 336.7 L648.2 333.9 L646.3 331.2 L644.4 328.5 L642.5 325.8 L640.6 323.1 L638.7 320.4 L636.8 317.7 L634.9 315.0 L633.0 312.3 L631.1 309.5 L629.2 306.8 L627.3 304.1 L625.4 301.4 L623.5 298.7 L621.5 296.0 L619.6 293.3 L617.7 290.6 L615.8 287.8 L613.9 285.1 L612.0 282.4 L610.1 279.7 L608.2 277.0 L606.3 274.3 L604.4 271.6 L602.5 268.9 L600.6 266.2 L598.7 263.4 L596.8 260.7 L594.9 258.0 L593.0 255.3 L591.0 252.6 L589.1 249.9 L587.2 247.2 L585.3 244.5 L583.4 241.7 L581.5 239.0 L579.6 236.3 L577.7 233.6 L575.8 230.9 L573.9 228.2 L572.0 225.5 L570.1 222.8 L568.2 220.0 L566.3 217.3 L564.4 214.6 L562.5 211.9 L560.5 209.2 L558.6 206.5 L556.7 203.8 L554.8 201.1 L552.9 198.4 L551.0 195.6 L549.1 192.9 L547.2 190.2 L545.3 187.5 L543.4 184.8 L541.5 182.1 L539.6 179.4 L537.7 176.7 L535.8 173.9 L533.9 171.2 L532.0 168.5 L530.0 165.8 L528.1 163.1 L526.2 160.4 L524.3 157.7 L522.4 155.0 L520.5 152.3 L518.6 149.5 L516.7 146.8 L514.8 144.1 L512.9 141.4 L511.0 138.7 L509.1 136.0 L507.2 133.3 L505.3 130.6 L503.4 127.8 L501.5 125.1 L499.6 122.4 L497.6 119.7 L495.7 117.0 L493.8 114.3 L491.9 111.6 L490.0 108.9 L488.1 106.2 L486.2 103.4 L484.3 100.7 L482.4 98.0 L480.5 95.3 L478.6 92.6 L476.7 89.9" fill="none" stroke="#00ffff" stroke-width="0.65"/>
<path d="M339.4 334.0 L341.3 332.8 L343.2 331.6 L345.1 330.4 L347.1 329.1 L349.0 327.8 L350.9 326.4 L352.8 325.0 L354.7 323.6 L356.6 322.2 L358.5 320.7 L360.4 319.2 L362.3 317.7 L364.2 316.1 L366.1 314.5 L368.0 312.9 L369.9 311.2 L371.8 309.5 L373.7 307.8 L375.6 306.0 L377.6 304.2 L379.5 302.4 L381.4 300.5 L383.3 298.6 L385.2 296.7 L387.1 294.8 L389.0 292.8 L390.9 290.8 L392.8 288.7 L394.7 286.6 L396.6 284.5 L398.5 282.4 L400.4 280.2 L402.3 278.0 L404.2 275.7 L406.1 273.4 L408.1 271.1 L410.0 268.8 L411.9 266.4 L413.8 264.0 L415.7 261.6 L417.6 259.1 L419.5 256.6 L421.4 254.1 L423.3 251.5 L425.2 248.9 L427.1 246.3 L429.0 243.6 L430.9 240.9 L432.8 238.2 L434.7 235.4 L436.6 232.6 L438.6 229.8 L440.5 226.9 L442.4 224.1 L444.3 221.1 L446.2 218.2 L448.1 215.2 L450.0 212.2 L451.9 209.1 L453.8 206.0 L455.7 202.9 L457.6 199.8 L459.5 196.6 L461.4 193.4 L463.3 190.2 L465.2 186.9 L467.1 183.6 L469.1 180.2 L471.0 176.9 L472.9 173.5 L474.8 170.0 L476.7 166.6 L478.6 163.1 L480.5 159.5 L482.4 156.0 L484.3 152.4 L486.2 148.7 L488.1 145.1 L490.0 141.4 L491.9 137.6 L493.8 133.9 L495.7 130.1 L497.6 126.3 L499.6 122.4 L501.5 118.5 L503.4 114.6 L505.3 110.7 L507.2 106.7 L509.1 102.7 L511.0 98.6 L512.9 94.5 L514.8 90.4 L516.7 86.3 L518.6 82.1 L520.5 77.9 L522.4 73.7" fill="none" stroke="#00ffff" stroke-width="0.65"/>
<path d="M667.3 345.3 L665.4 342.5 L663.5 339.6 L661.6 336.8 L659.7 333.9 L657.8 331.1 L655.9 328.3 L654.0 325.4 L652.0 322.6 L650.1 319.7 L648.2 316.9 L646.3 314.0 L644.4 311.2 L642.5 308.4 L640.6 305.5 L638.7 302.7 L636.8 299.8 L634.9 297.0 L633.0 294.2 L631.1 291.3 L629.2 288.5 L627.3 285.6 L625.4 282.8 L623.5 280.0 L621.5 277.1 L619.6 274.3 L617.7 271.4 L615.8 268.6 L613.9 265.8 L612.0 262.9 L610.1 260.1 L608.2 257.2 L606.3 254.4 L604.4 251.6 L602.5 248.7 L600.6 245.9 L598.7 243.0 L596.8 240.2 L594.9 237.4 L593.0 234.5 L591.0 231.7 L589.1 228.8 L587.2 226.0 L585.3 223.1 L583.4 220.3 L581.5 217.5 L579.6 214.6 L577.7 211.8 L575.8 208.9 L573.9 206.1 L572.0 203.3 L570.1 200.4 L568.2 197.6 L566.3 194.7 L564.4 191.9 L562.5 189.1 L560.5 186.2 L558.6 183.4 L556.7 180.5 L554.8 177.7 L552.9 174.9 L551.0 172.0 L549.1 169.2 L547.2 166.3 L545.3 163.5 L543.4 160.7 L541.5 157.8 L539.6 155.0 L537.7 152.1 L535.8 149.3 L533.9 146.5 L532.0 143.6 L530.0 140.8 L528.1 137.9 L526.2 135.1 L524.3 132.2 L522.4 129.4 L520.5 126.6 L518.6 123.7 L516.7 120.9 L514.8 118.0 L512.9 115.2 L511.0 112.4 L509.1 109.5 L507.2 106.7 L505.3 103.8 L503.4 101.0 L501.5 98.2 L499.6 95.3 L497.6 92.5 L495.7 89.6 L493.8 86.8 L491.9 84.0 L490.0 81.1 L488.1 78.3 L486.2 75.4 L484.3 72.6" fill="none" stroke="#00ffff" stroke-width="0.65"/>
<path d="M331.8 334.0 L333.7 332.7 L335.6 331.3 L337.5 329.9 L339.4 328.5 L341.3 327.1 L343.2 325.6 L345.1 324.1 L347.1 322.6 L349.0 321.0 L350.9 319.4 L352.8 317.8 L354.7 316.1 L356.6 314.4 L358.5 312.7 L360.4 310.9 L362.3 309.1 L364.2 307.3 L366.1 305.4 L368.0 303.5 L369.9 301.6 L371.8 299.7 L373.7 297.7 L375.6 295.7 L377.6 293.6 L379.5 291.5 L381.4 289.4 L383.3 287.3 L385.2 285.1 L387.1 282.9 L389.0 280.6 L390.9 278.3 L392.8 276.0 L394.7 273.7 L396.6 271.3 L398.5 268.9 L400.4 266.5 L402.3 264.0 L404.2 261.5 L406.1 259.0 L408.1 256.4 L410.0 253.8 L411.9 251.2 L413.8 248.5 L415.7 245.8 L417.6 243.1 L419.5 240.3 L421.4 237.5 L423.3 234.7 L425.2 231.8 L427.1 228.9 L429.0 226.0 L430.9 223.1 L432.8 220.1 L434.7 217.1 L436.6 214.0 L438.6 210.9 L440.5 207.8 L442.4 204.7 L444.3 201.5 L446.2 198.3 L448.1 195.0 L450.0 191.8 L451.9 188.5 L453.8 185.1 L455.7 181.8 L457.6 178.3 L459.5 174.9 L461.4 171.4 L463.3 167.9 L465.2 164.4 L467.1 160.8 L469.1 157.2 L471.0 153.6 L472.9 150.0 L474.8 146.3 L476.7 142.5 L478.6 138.8 L480.5 135.0 L482.4 131.2 L484.3 127.3 L486.2 123.4 L488.1 119.5 L490.0 115.6 L491.9 111.6 L493.8 107.6 L495.7 103.5 L497.6 99.4 L499.6 95.3 L501.5 91.2 L503.4 87.0 L505.3 82.8 L507.2 78.5 L509.1 74.3 L511.0 70.0 L512.9 65.6 L514.8 61.3" fill="none" stroke="#00ffff" stroke-width="0.65"/>
<path d="M674.9 339.9 L673.0 336.9 L671.1 333.9 L669.2 330.9 L667.3 328.0 L665.4 325.0 L663.5 322.0 L661.6 319.1 L659.7 316.1 L657.8 313.1 L655.9 310.2 L654.0 307.2 L652.0 304.2 L650.1 301.3 L648.2 298.3 L646.3 295.3 L644.4 292.3 L642.5 289.4 L640.6 286.4 L638.7 283.4 L636.8 280.5 L634.9 277.5 L633.0 274.5 L631.1 271.6 L629.2 268.6 L627.3 265.6 L625.4 262.7 L623.5 259.7 L621.5 256.7 L619.6 253.7 L617.7 250.8 L615.8 247.8 L613.9 244.8 L612.0 241.9 L610.1 238.9 L608.2 235.9 L606.3 233.0 L604.4 230.0 L602.5 227.0 L600.6 224.0 L598.7 221.1 L596.8 218.1 L594.9 215.1 L593.0 212.2 L591.0 209.2 L589.1 206.2 L587.2 203.3 L585.3 200.3 L583.4 197.3 L581.5 194.4 L579.6 191.4 L577.7 188.4 L575.8 185.4 L573.9 182.5 L572.0 179.5 L570.1 176.5 L568.2 173.6 L566.3 170.6 L564.4 167.6 L562.5 164.7 L560.5 161.7 L558.6 158.7 L556.7 155.8 L554.8 152.8 L552.9 149.8 L551.0 146.8 L549.1 143.9 L547.2 140.9 L545.3 137.9 L543.4 135.0 L541.5 132.0 L539.6 129.0 L537.7 126.1 L535.8 123.1 L533.9 120.1 L532.0 117.2 L530.0 114.2 L528.1 111.2 L526.2 108.2 L524.3 105.3 L522.4 102.3 L520.5 99.3 L518.6 96.4 L516.7 93.4 L514.8 90.4 L512.9 87.5 L511.0 84.5 L509.1 81.5 L507.2 78.5 L505.3 75.6 L503.4 72.6 L501.5 69.6 L499.6 66.7 L497.6 63.7 L495.7 60.7 L493.8 57.8 L491.9 54.8" fill="none" stroke="#00ffff" stroke-width="0.65"/>
<path d="M324.2 333.9 L326.1 332.5 L328.0 331.0 L329.9 329.5 L331.8 328.0 L333.7 326.4 L335.6 324.8 L337.5 323.2 L339.4 321.5 L341.3 319.8 L343.2 318.1 L345.1 316.3 L347.1 314.5 L349.0 312.7 L350.9 310.8 L352.8 308.9 L354.7 307.0 L356.6 305.1 L358.5 303.1 L360.4 301.1 L362.3 299.0 L364.2 296.9 L366.1 294.8 L368.0 292.7 L369.9 290.5 L371.8 288.3 L373.7 286.0 L375.6 283.7 L377.6 281.4 L379.5 279.1 L381.4 276.7 L383.3 274.3 L385.2 271.9 L387.1 269.4 L389.0 266.9 L390.9 264.4 L392.8 261.8 L394.7 259.2 L396.6 256.6 L398.5 253.9 L400.4 251.2 L402.3 248.5 L404.2 245.7 L406.1 242.9 L408.1 240.1 L410.0 237.2 L411.9 234.4 L413.8 231.4 L415.7 228.5 L417.6 225.5 L419.5 222.5 L421.4 219.4 L423.3 216.3 L425.2 213.2 L427.1 210.1 L429.0 206.9 L430.9 203.7 L432.8 200.5 L434.7 197.2 L436.6 193.9 L438.6 190.5 L440.5 187.2 L442.4 183.8 L444.3 180.3 L446.2 176.9 L448.1 173.4 L450.0 169.8 L451.9 166.3 L453.8 162.7 L455.7 159.0 L457.6 155.4 L459.5 151.7 L461.4 147.9 L463.3 144.2 L465.2 140.4 L467.1 136.6 L469.1 132.7 L471.0 128.8 L472.9 124.9 L474.8 121.0 L476.7 117.0 L478.6 113.0 L480.5 108.9 L482.4 104.8 L484.3 100.7 L486.2 96.6 L488.1 92.4 L490.0 88.2 L491.9 84.0 L493.8 79.7 L495.7 75.4 L497.6 71.0 L499.6 66.7 L501.5 62.3 L503.4 57.8 L505.3 53.4 L507.2 48.9" fill="none" stroke="#00ffff" stroke-width="0.65"/>
<path d="M682.5 333.9 L680.6 330.8 L678.7 327.7 L676.8 324.6 L674.9 321.5 L673.0 318.4 L671.1 315.3 L669.2 312.2 L667.3 309.1 L665.4 306.0 L663.5 302.9 L661.6 299.8 L659.7 296.7 L657.8 293.6 L655.9 290.5 L654.0 287.4 L652.0 284.3 L650.1 281.2 L648.2 278.1 L646.3 275.0 L644.4 271.9 L642.5 268.8 L640.6 265.7 L638.7 262.6 L636.8 259.5 L634.9 256.4 L633.0 253.3 L631.1 250.3 L629.2 247.2 L627.3 244.1 L625.4 241.0 L623.5 237.9 L621.5 234.8 L619.6 231.7 L617.7 228.6 L615.8 225.5 L613.9 222.4 L612.0 219.3 L610.1 216.2 L608.2 213.1 L606.3 210.0 L604.4 206.9 L602.5 203.8 L600.6 200.7 L598.7 197.6 L596.8 194.5 L594.9 191.4 L593.0 188.3 L591.0 185.2 L589.1 182.1 L587.2 179.0 L585.3 175.9 L583.4 172.8 L581.5 169.7 L579.6 166.6 L577.7 163.5 L575.8 160.4 L573.9 157.3 L572.0 154.2 L570.1 151.1 L568.2 148.0 L566.3 144.9 L564.4 141.8 L562.5 138.7 L560.5 135.6 L558.6 132.5 L556.7 129.4 L554.8 126.3 L552.9 123.2 L551.0 120.1 L549.1 117.0 L547.2 113.9 L545.3 110.8 L543.4 107.7 L541.5 104.6 L539.6 101.5 L537.7 98.4 L535.8 95.3 L533.9 92.2 L532.0 89.1 L530.0 86.0 L528.1 83.0 L526.2 79.9 L524.3 76.8 L522.4 73.7 L520.5 70.6 L518.6 67.5 L516.7 64.4 L514.8 61.3 L512.9 58.2 L511.0 55.1 L509.1 52.0 L507.2 48.9 L505.3 45.8 L503.4 42.7 L501.5 39.6 L499.6 36.5" fill="none" stroke="#00ffff" stroke-width="0.65"/>
<path d="M316.6 333.9 L318.5 332.3 L320.4 330.7 L322.3 329.1 L324.2 327.4 L326.1 325.7 L328.0 324.0 L329.9 322.2 L331.8 320.4 L333.7 318.6 L335.6 316.8 L337.5 314.9 L339.4 312.9 L341.3 311.0 L343.2 309.0 L345.1 307.0 L347.1 304.9 L349.0 302.8 L350.9 300.7 L352.8 298.6 L354.7 296.4 L356.6 294.2 L358.5 291.9 L360.4 289.7 L362.3 287.4 L364.2 285.0 L366.1 282.6 L368.0 280.2 L369.9 277.8 L371.8 275.3 L373.7 272.8 L375.6 270.3 L377.6 267.7 L379.5 265.1 L381.4 262.5 L383.3 259.8 L385.2 257.1 L387.1 254.4 L389.0 251.6 L390.9 248.8 L392.8 246.0 L394.7 243.2 L396.6 240.3 L398.5 237.4 L400.4 234.4 L402.3 231.4 L404.2 228.4 L406.1 225.4 L408.1 222.3 L410.0 219.2 L411.9 216.0 L413.8 212.8 L415.7 209.6 L417.6 206.4 L419.5 203.1 L421.4 199.8 L423.3 196.5 L425.2 193.1 L427.1 189.7 L429.0 186.2 L430.9 182.8 L432.8 179.3 L434.7 175.7 L436.6 172.2 L438.6 168.6 L440.5 165.0 L442.4 161.3 L444.3 157.6 L446.2 153.9 L448.1 150.1 L450.0 146.3 L451.9 142.5 L453.8 138.6 L455.7 134.8 L457.6 130.8 L459.5 126.9 L461.4 122.9 L463.3 118.9 L465.2 114.8 L467.1 110.8 L469.1 106.6 L471.0 102.5 L472.9 98.3 L474.8 94.1 L476.7 89.9 L478.6 85.6 L480.5 81.3 L482.4 77.0 L484.3 72.6 L486.2 68.2 L488.1 63.8 L490.0 59.3 L491.9 54.8 L493.8 50.3 L495.7 45.7 L497.6 41.1 L499.6 36.5" fill="none" stroke="#00ffff" stroke-width="0.65"/>
<path d="M614.3 368.8 L613.6 367.5 L612.8 366.3 L612.2 365.1 L611.5 363.8 L610.9 362.6 L610.3 361.4 L609.8 360.3 L609.2 359.1 L608.8 358.0 L608.3 356.8 L607.9 355.7 L607.5 354.6 L607.1 353.5 L606.8 352.4 L606.5 351.3 L606.2 350.3 L606.0 349.2 L605.8 348.2 L605.6 347.1 L605.5 346.1 L605.4 345.1 L605.3 344.1 L605.2 343.1 L605.2 342.1 L605.2 341.1 L605.3 340.2 L605.3 339.2 L605.4 338.3 L605.6 337.3 L605.7 336.4 L605.9 335.4 L606.2 334.5 L606.4 333.6 L606.7 332.7 L607.0 331.8 L607.4 330.9 L607.8 330.0 L608.2 329.1 L608.6 328.2 L609.1 327.3 L609.6 326.4 L610.2 325.5 L610.7 324.7 L611.4 323.8 L612.0 322.9 L612.7 322.1 L613.4 321.2 L614.1 320.3 L614.9 319.5 L615.7 318.6 L616.5 317.8 L617.4 316.9 L618.3 316.1 L619.3 315.2 L620.3 314.4 L621.3 313.5 L622.3 312.7 L623.4 311.8 L624.5 311.0 L625.7 310.1 L626.9 309.3 L628.1 308.4 L629.4 307.6 L630.7 306.7 L632.0 305.9 L633.4 305.0 L634.9 304.1 L636.3 303.3 L637.8 302.4 L639.4 301.5 L640.9 300.7 L642.6 299.8 L644.2 298.9 L646.0 298.0 L647.7 297.1 L649.5 296.2 L651.3 295.3 L653.2 294.4 L655.2 293.5 L657.1 292.6" fill="none" stroke="#ffff00" stroke-width="1.0" stroke-linecap="butt"/>
<path d="M384.8 257.8 L385.5 259.1 L386.3 260.3 L386.9 261.5 L387.6 262.8 L388.2 264.0 L388.8 265.2 L389.3 266.3 L389.9 267.5 L390.3 268.6 L390.8 269.8 L391.2 270.9 L391.6 272.0 L392.0 273.1 L392.3 274.2 L392.6 275.3 L392.9 276.3 L393.1 277.4 L393.3 278.4 L393.5 279.5 L393.6 280.5 L393.7 281.5 L393.8 282.5 L393.9 283.5 L393.9 284.5 L393.9 285.5 L393.8 286.4 L393.8 287.4 L393.7 288.3 L393.5 289.3 L393.4 290.2 L393.2 291.2 L392.9 292.1 L392.7 293.0 L392.4 293.9 L392.1 294.8 L391.7 295.7 L391.3 296.6 L390.9 297.5 L390.5 298.4 L390.0 299.3 L389.5 300.2 L388.9 301.1 L388.4 301.9 L387.7 302.8 L387.1 303.7 L386.4 304.5 L385.7 305.4 L385.0 306.3 L384.2 307.1 L383.4 308.0 L382.6 308.8 L381.7 309.7 L380.8 310.5 L379.8 311.4 L378.8 312.2 L377.8 313.1 L376.8 313.9 L375.7 314.8 L374.6 315.6 L373.4 316.5 L372.2 317.3 L371.0 318.2 L369.7 319.0 L368.4 319.9 L367.1 320.7 L365.7 321.6 L364.2 322.5 L362.8 323.3 L361.3 324.2 L359.7 325.1 L358.2 325.9 L356.5 326.8 L354.9 327.7 L353.1 328.6 L351.4 329.5 L349.6 330.4 L347.8 331.3 L345.9 332.2 L343.9 333.1 L342.0 334.0" fill="none" stroke="#ffff00" stroke-width="1.0" stroke-linecap="butt"/>
<path d="M596.0 370.9 L593.2 368.3 L590.5 365.8 L587.9 363.4 L585.4 361.0 L583.0 358.7 L580.8 356.5 L578.6 354.4 L576.6 352.3 L574.6 350.3 L572.8 348.4 L571.0 346.5 L569.3 344.7 L567.7 342.9 L566.2 341.2 L564.8 339.5 L563.5 337.9 L562.3 336.3 L561.1 334.8 L560.0 333.3 L559.0 331.9 L558.1 330.5 L557.2 329.1 L556.4 327.8 L555.7 326.5 L555.0 325.3 L554.5 324.0 L554.0 322.8 L553.5 321.7 L553.2 320.5 L552.9 319.4 L552.7 318.3 L552.5 317.2 L552.4 316.2 L552.4 315.1 L552.4 314.1 L552.5 313.1 L552.7 312.2 L553.0 311.2 L553.3 310.2 L553.7 309.3 L554.1 308.4 L554.6 307.4 L555.2 306.5 L555.9 305.6 L556.6 304.7 L557.4 303.8 L558.3 302.9 L559.3 302.0 L560.3 301.2 L561.4 300.3 L562.6 299.4 L563.9 298.5 L565.2 297.6 L566.6 296.7 L568.2 295.8 L569.8 294.9 L571.5 294.0 L573.3 293.0 L575.1 292.1 L577.1 291.2 L579.2 290.2 L581.4 289.2 L583.7 288.2 L586.1 287.2 L588.6 286.2 L591.2 285.2 L593.9 284.1 L596.8 283.0 L599.7 281.9 L602.8 280.8 L606.1 279.6 L609.5 278.4 L613.0 277.2 L616.6 276.0 L620.4 274.7 L624.4 273.4 L628.5 272.1 L632.8 270.7 L637.3 269.3 L641.9 267.8" fill="none" stroke="#0000ff" stroke-width="1.05" stroke-linecap="butt"/>
<path d="M403.1 230.9 L405.9 233.5 L408.6 236.1 L411.2 238.5 L413.7 240.9 L416.1 243.2 L418.3 245.4 L420.5 247.5 L422.5 249.6 L424.5 251.6 L426.3 253.5 L428.1 255.4 L429.8 257.2 L431.4 259.0 L432.9 260.7 L434.3 262.4 L435.6 264.0 L436.8 265.6 L438.0 267.1 L439.1 268.6 L440.1 270.0 L441.0 271.4 L441.9 272.8 L442.7 274.1 L443.4 275.4 L444.1 276.6 L444.6 277.9 L445.1 279.1 L445.6 280.2 L445.9 281.4 L446.2 282.5 L446.4 283.6 L446.6 284.6 L446.7 285.7 L446.7 286.7 L446.7 287.7 L446.6 288.7 L446.4 289.7 L446.1 290.7 L445.8 291.6 L445.4 292.6 L445.0 293.5 L444.5 294.4 L443.9 295.4 L443.2 296.3 L442.5 297.2 L441.7 298.1 L440.8 298.9 L439.8 299.8 L438.8 300.7 L437.7 301.6 L436.5 302.5 L435.2 303.4 L433.9 304.3 L432.5 305.2 L430.9 306.1 L429.3 307.0 L427.6 307.9 L425.8 308.8 L424.0 309.8 L422.0 310.7 L419.9 311.7 L417.7 312.7 L415.4 313.6 L413.0 314.7 L410.5 315.7 L407.9 316.7 L405.2 317.8 L402.3 318.9 L399.4 320.0 L396.3 321.1 L393.0 322.3 L389.6 323.4 L386.1 324.7 L382.5 325.9 L378.7 327.2 L374.7 328.5 L370.6 329.8 L366.3 331.2 L361.8 332.6 L357.2 334.1" fill="none" stroke="#0000ff" stroke-width="1.05" stroke-linecap="butt"/>
<path d="M413.1 214.2 L416.8 216.9 L420.3 219.4 L423.7 221.9 L427.0 224.3 L430.2 226.5 L433.4 228.7 L436.4 230.8 L439.4 232.9 L442.3 234.8 L445.1 236.7 L447.8 238.5 L450.5 240.2 L453.0 241.8 L455.6 243.4 L458.1 244.9 L460.5 246.4 L462.9 247.8 L465.2 249.1 L467.4 250.4 L469.7 251.6 L471.9 252.8 L474.0 253.9 L476.1 255.0 L478.2 256.0 L480.3 256.9 L482.3 257.8 L484.4 258.7 L486.3 259.5 L488.3 260.3 L490.3 261.1 L492.2 261.7 L494.2 262.4 L496.1 263.0 L498.0 263.6 L500.0 264.1 L501.9 264.6 L503.8 265.1 L505.7 265.5 L507.7 265.9 L509.6 266.2 L511.6 266.5 L513.6 266.8 L515.6 267.1 L517.6 267.3 L519.7 267.5 L521.7 267.6 L523.8 267.7 L526.0 267.8 L528.2 267.8 L530.4 267.8 L532.6 267.8 L534.9 267.8 L537.3 267.7 L539.6 267.6 L542.1 267.4 L544.6 267.2 L547.1 267.0 L549.8 266.7 L552.5 266.5 L555.2 266.1 L558.1 265.8 L561.0 265.4 L564.0 264.9 L567.0 264.5 L570.2 264.0 L573.5 263.4 L576.8 262.8 L580.3 262.2 L583.9 261.6 L587.6 260.8 L591.4 260.1 L595.3 259.3 L599.3 258.5 L603.5 257.6 L607.8 256.7 L612.3 255.7 L616.9 254.7 L621.7 253.6 L626.6 252.5 L631.7 251.3" fill="none" stroke="#00ff00" stroke-width="1.35" stroke-linecap="butt"/>
<path d="M586.0 371.2 L582.3 368.5 L578.8 366.0 L575.4 363.5 L572.1 361.1 L568.9 358.9 L565.7 356.7 L562.7 354.6 L559.7 352.5 L556.8 350.6 L554.0 348.7 L551.3 346.9 L548.6 345.2 L546.1 343.6 L543.5 342.0 L541.0 340.5 L538.6 339.0 L536.2 337.6 L533.9 336.3 L531.7 335.0 L529.4 333.8 L527.2 332.6 L525.1 331.5 L523.0 330.4 L520.9 329.4 L518.8 328.5 L516.8 327.6 L514.7 326.7 L512.8 325.9 L510.8 325.1 L508.8 324.3 L506.9 323.7 L504.9 323.0 L503.0 322.4 L501.1 321.8 L499.1 321.3 L497.2 320.8 L495.3 320.3 L493.4 319.9 L491.4 319.5 L489.5 319.2 L487.5 318.9 L485.5 318.6 L483.5 318.3 L481.5 318.1 L479.4 317.9 L477.4 317.8 L475.3 317.7 L473.1 317.6 L470.9 317.6 L468.7 317.6 L466.5 317.6 L464.2 317.6 L461.8 317.7 L459.5 317.8 L457.0 318.0 L454.5 318.2 L452.0 318.4 L449.3 318.7 L446.6 318.9 L443.9 319.3 L441.0 319.6 L438.1 320.0 L435.1 320.5 L432.1 320.9 L428.9 321.4 L425.6 322.0 L422.3 322.6 L418.8 323.2 L415.2 323.8 L411.5 324.6 L407.7 325.3 L403.8 326.1 L399.8 326.9 L395.6 327.8 L391.3 328.7 L386.8 329.7 L382.2 330.7 L377.4 331.8 L372.5 332.9 L367.4 334.1" fill="none" stroke="#00ff00" stroke-width="1.35" stroke-linecap="butt"/>
<path d="M426.5 190.8 L429.1 192.2 L431.6 193.7 L434.1 195.1 L436.6 196.4 L439.0 197.8 L441.5 199.1 L443.9 200.3 L446.2 201.6 L448.6 202.8 L450.9 204.0 L453.2 205.1 L455.5 206.2 L457.8 207.3 L460.1 208.4 L462.3 209.4 L464.6 210.4 L466.8 211.4 L469.0 212.3 L471.2 213.2 L473.4 214.1 L475.5 215.0 L477.7 215.8 L479.9 216.6 L482.0 217.4 L484.1 218.2 L486.3 218.9 L488.4 219.6 L490.5 220.3 L492.6 221.0 L494.8 221.6 L496.9 222.2 L499.0 222.8 L501.1 223.4 L503.2 223.9 L505.3 224.4 L507.5 224.9 L509.6 225.4 L511.7 225.9 L513.8 226.3 L516.0 226.7 L518.1 227.1 L520.3 227.5 L522.4 227.8 L524.6 228.2 L526.8 228.5 L528.9 228.8 L531.1 229.0 L533.4 229.3 L535.6 229.5 L537.8 229.7 L540.1 229.9 L542.3 230.0 L544.6 230.2 L546.9 230.3 L549.3 230.4 L551.6 230.5 L554.0 230.6 L556.4 230.6 L558.8 230.6 L561.2 230.6 L563.7 230.6 L566.2 230.6 L568.7 230.5 L571.2 230.5 L573.8 230.4 L576.4 230.2 L579.0 230.1 L581.7 230.0 L584.4 229.8 L587.1 229.6 L589.8 229.4 L592.6 229.1 L595.5 228.9 L598.4 228.6 L601.3 228.3 L604.2 228.0 L607.2 227.6 L610.3 227.3 L613.3 226.9 L616.5 226.5" fill="none" stroke="#ff0000" stroke-width="1.35" stroke-linecap="butt"/>
<path d="M572.6 369.9 L570.0 368.5 L567.5 367.0 L565.0 365.6 L562.5 364.2 L560.1 362.9 L557.6 361.6 L555.2 360.3 L552.9 359.1 L550.5 357.9 L548.2 356.7 L545.9 355.6 L543.6 354.5 L541.3 353.4 L539.0 352.3 L536.8 351.3 L534.5 350.3 L532.3 349.3 L530.1 348.4 L527.9 347.5 L525.7 346.6 L523.6 345.7 L521.4 344.9 L519.2 344.1 L517.1 343.3 L515.0 342.5 L512.8 341.8 L510.7 341.1 L508.6 340.4 L506.5 339.7 L504.3 339.1 L502.2 338.5 L500.1 337.9 L498.0 337.3 L495.9 336.8 L493.8 336.2 L491.6 335.7 L489.5 335.3 L487.4 334.8 L485.3 334.4 L483.1 334.0 L481.0 333.6 L478.8 333.2 L476.7 332.8 L474.5 332.5 L472.3 332.2 L470.2 331.9 L468.0 331.7 L465.7 331.4 L463.5 331.2 L461.3 331.0 L459.0 330.8 L456.8 330.6 L454.5 330.5 L452.2 330.4 L449.8 330.3 L447.5 330.2 L445.1 330.1 L442.7 330.1 L440.3 330.0 L437.9 330.0 L435.4 330.1 L432.9 330.1 L430.4 330.1 L427.9 330.2 L425.3 330.3 L422.7 330.4 L420.1 330.6 L417.4 330.7 L414.7 330.9 L412.0 331.1 L409.3 331.3 L406.5 331.5 L403.6 331.8 L400.7 332.1 L397.8 332.4 L394.9 332.7 L391.9 333.0 L388.8 333.4 L385.8 333.8 L382.6 334.2" fill="none" stroke="#ff0000" stroke-width="1.1" stroke-opacity="0.55"/>
<path d="M591.0 371.4 L408.1 222.3" fill="none" stroke="#000" stroke-width="1.2"/>
<path d="M362.3 334.1 L636.8 259.5" fill="none" stroke="#000" stroke-width="1.2"/><text transform="translate(685.3 179.7) scale(0.92 1)" font-size="8.5"  text-anchor="start">-3</text>
<text transform="translate(654.8 154.8) scale(0.92 1)" font-size="8.5"  text-anchor="start">-2</text>
<text transform="translate(624.3 130.0) scale(0.92 1)" font-size="8.5"  text-anchor="start">-1</text>
<text transform="translate(593.8 105.1) scale(0.92 1)" font-size="8.5"  text-anchor="start">0</text>
<text transform="translate(563.3 80.3) scale(0.92 1)" font-size="8.5"  text-anchor="start">1</text>
<text transform="translate(532.8 55.4) scale(0.92 1)" font-size="8.5"  text-anchor="start">2</text>
<text transform="translate(502.4 30.6) scale(0.92 1)" font-size="8.5"  text-anchor="start">3</text>
<text transform="translate(533.8 470.1) scale(0.92 1)" font-size="8.5"  text-anchor="start">-2</text>
<text transform="translate(564.3 445.3) scale(0.92 1)" font-size="8.5"  text-anchor="start">-1</text>
<text transform="translate(594.8 420.4) scale(0.92 1)" font-size="8.5"  text-anchor="start">0</text>
<text transform="translate(625.3 395.6) scale(0.92 1)" font-size="8.5"  text-anchor="start">1</text>
<text transform="translate(655.8 370.8) scale(0.92 1)" font-size="8.5"  text-anchor="start">2</text>
<text transform="translate(686.3 345.9) scale(0.92 1)" font-size="8.5"  text-anchor="start">3</text>
<text transform="translate(686.2 188.9) scale(0.92 1)" font-size="8.5"  text-anchor="start">27</text>
<text transform="translate(686.2 336.9) scale(0.92 1)" font-size="8.5"  text-anchor="start">-9</text>
<text transform="translate(625.3 74.0) scale(0.925 1)" font-size="10" font-weight="bold" text-anchor="start">y Axis</text>
<text transform="translate(717.0 257.8) scale(0.925 1)" font-size="10" font-weight="bold" text-anchor="start">z Axis</text>
<text transform="translate(625.7 440.8) scale(0.925 1)" font-size="10" font-weight="bold" text-anchor="start">x Axis</text>
<line x1="486.4" y1="1052.1" x2="302.2" y2="901.8" stroke="#c4c4c4" stroke-width="0.8"/>
<line x1="486.4" y1="1052.1" x2="670.5" y2="901.8" stroke="#c4c4c4" stroke-width="0.8"/>
<line x1="517.1" y1="1027.0" x2="332.9" y2="876.8" stroke="#c4c4c4" stroke-width="0.8"/>
<line x1="455.7" y1="1027.0" x2="639.9" y2="876.8" stroke="#c4c4c4" stroke-width="0.8"/>
<line x1="547.8" y1="1002.0" x2="363.6" y2="851.7" stroke="#c4c4c4" stroke-width="0.8"/>
<line x1="425.0" y1="1002.0" x2="609.1" y2="851.7" stroke="#c4c4c4" stroke-width="0.8"/>
<line x1="578.5" y1="976.9" x2="394.2" y2="826.6" stroke="#c4c4c4" stroke-width="0.8"/>
<line x1="394.2" y1="976.9" x2="578.5" y2="826.6" stroke="#c4c4c4" stroke-width="0.8"/>
<line x1="609.1" y1="951.9" x2="425.0" y2="801.6" stroke="#c4c4c4" stroke-width="0.8"/>
<line x1="363.6" y1="951.9" x2="547.8" y2="801.6" stroke="#c4c4c4" stroke-width="0.8"/>
<line x1="639.9" y1="926.8" x2="455.7" y2="776.5" stroke="#c4c4c4" stroke-width="0.8"/>
<line x1="332.9" y1="926.8" x2="517.1" y2="776.5" stroke="#c4c4c4" stroke-width="0.8"/>
<line x1="670.5" y1="901.8" x2="486.4" y2="751.5" stroke="#c4c4c4" stroke-width="0.8"/>
<line x1="302.2" y1="901.8" x2="486.4" y2="751.5" stroke="#c4c4c4" stroke-width="0.8"/>
<line x1="302.2" y1="901.8" x2="302.2" y2="752.0" stroke="#c4c4c4" stroke-width="0.8"/>
<line x1="670.5" y1="901.8" x2="670.5" y2="752.0" stroke="#c4c4c4" stroke-width="0.8"/>
<line x1="332.9" y1="876.8" x2="332.9" y2="727.0" stroke="#c4c4c4" stroke-width="0.8"/>
<line x1="639.9" y1="876.8" x2="639.9" y2="727.0" stroke="#c4c4c4" stroke-width="0.8"/>
<line x1="363.6" y1="851.7" x2="363.6" y2="701.9" stroke="#c4c4c4" stroke-width="0.8"/>
<line x1="609.1" y1="851.7" x2="609.1" y2="701.9" stroke="#c4c4c4" stroke-width="0.8"/>
<line x1="394.2" y1="826.6" x2="394.2" y2="676.9" stroke="#c4c4c4" stroke-width="0.8"/>
<line x1="578.5" y1="826.6" x2="578.5" y2="676.9" stroke="#c4c4c4" stroke-width="0.8"/>
<line x1="425.0" y1="801.6" x2="425.0" y2="651.8" stroke="#c4c4c4" stroke-width="0.8"/>
<line x1="547.8" y1="801.6" x2="547.8" y2="651.8" stroke="#c4c4c4" stroke-width="0.8"/>
<line x1="455.7" y1="776.5" x2="455.7" y2="626.8" stroke="#c4c4c4" stroke-width="0.8"/>
<line x1="517.1" y1="776.5" x2="517.1" y2="626.8" stroke="#c4c4c4" stroke-width="0.8"/>
<line x1="486.4" y1="751.5" x2="486.4" y2="601.7" stroke="#c4c4c4" stroke-width="0.8"/>
<line x1="486.4" y1="751.5" x2="486.4" y2="601.7" stroke="#c4c4c4" stroke-width="0.8"/>
<line x1="302.2" y1="752.0" x2="486.4" y2="601.7" stroke="#b0b0b0" stroke-width="0.8"/>
<line x1="486.4" y1="601.7" x2="670.5" y2="752.0" stroke="#6a6a6a" stroke-width="0.7"/>
<line x1="486.4" y1="1052.1" x2="670.5" y2="901.8" stroke="#6a6a6a" stroke-width="0.7"/>
<line x1="486.4" y1="1052.1" x2="302.2" y2="901.8" stroke="#c4c4c4" stroke-width="0.8"/>
<line x1="670.5" y1="752.0" x2="674.0" y2="747.9" stroke="#6a6a6a" stroke-width="0.8"/>
<line x1="486.4" y1="1052.1" x2="490.0" y2="1055.3" stroke="#6a6a6a" stroke-width="0.8"/>
<line x1="639.9" y1="727.0" x2="643.4" y2="722.9" stroke="#6a6a6a" stroke-width="0.8"/>
<line x1="517.1" y1="1027.0" x2="520.7" y2="1030.2" stroke="#6a6a6a" stroke-width="0.8"/>
<line x1="609.1" y1="701.9" x2="612.6" y2="697.8" stroke="#6a6a6a" stroke-width="0.8"/>
<line x1="547.8" y1="1002.0" x2="551.4" y2="1005.2" stroke="#6a6a6a" stroke-width="0.8"/>
<line x1="578.5" y1="676.9" x2="582.0" y2="672.8" stroke="#6a6a6a" stroke-width="0.8"/>
<line x1="578.5" y1="976.9" x2="582.1" y2="980.1" stroke="#6a6a6a" stroke-width="0.8"/>
<line x1="547.8" y1="651.8" x2="551.2" y2="647.7" stroke="#6a6a6a" stroke-width="0.8"/>
<line x1="609.1" y1="951.9" x2="612.8" y2="955.1" stroke="#6a6a6a" stroke-width="0.8"/>
<line x1="517.1" y1="626.8" x2="520.6" y2="622.7" stroke="#6a6a6a" stroke-width="0.8"/>
<line x1="639.9" y1="926.8" x2="643.5" y2="930.0" stroke="#6a6a6a" stroke-width="0.8"/>
<line x1="486.4" y1="601.7" x2="489.9" y2="597.6" stroke="#6a6a6a" stroke-width="0.8"/>
<line x1="670.5" y1="901.8" x2="674.1" y2="905.0" stroke="#6a6a6a" stroke-width="0.8"/>
<path d="M601.9 919.6 L601.1 918.4 L600.4 917.1 L599.7 915.9 L599.0 914.6 L598.4 913.4 L597.8 912.2 L597.3 911.0 L596.8 909.9 L596.3 908.7 L595.8 907.6 L595.4 906.4 L595.0 905.3 L594.6 904.2 L594.3 903.1 L594.0 902.0 L593.7 901.0 L593.5 899.9 L593.3 898.8 L593.1 897.8 L593.0 896.8 L592.8 895.8 L592.8 894.7 L592.7 893.7 L592.7 892.7 L592.7 891.8 L592.8 890.8 L592.8 889.8 L592.9 888.8 L593.1 887.9 L593.2 886.9 L593.4 886.0 L593.7 885.1 L593.9 884.1 L594.2 883.2 L594.5 882.3 L594.9 881.4 L595.3 880.5 L595.7 879.6 L596.2 878.7 L596.6 877.8 L597.2 876.9 L597.7 876.0 L598.3 875.2 L598.9 874.3 L599.5 873.4 L600.2 872.5 L600.9 871.7 L601.7 870.8 L602.5 869.9 L603.3 869.1 L604.1 868.2 L605.0 867.4 L605.9 866.5 L606.9 865.6 L607.8 864.8 L608.9 863.9 L609.9 863.1 L611.0 862.2 L612.1 861.4 L613.3 860.5 L614.5 859.6 L615.8 858.8 L617.0 857.9 L618.4 857.1 L619.7 856.2 L621.1 855.3 L622.5 854.5 L624.0 853.6 L625.5 852.7 L627.1 851.8 L628.7 851.0 L630.3 850.1 L632.0 849.2 L633.7 848.3 L635.5 847.4 L637.3 846.5 L639.1 845.6 L641.0 844.7 L643.0 843.7 L645.0 842.8" fill="none" stroke="#ffff00" stroke-width="1.25" stroke-linecap="butt"/>
<path d="M370.8 807.7 L371.6 809.0 L372.3 810.3 L373.0 811.5 L373.7 812.8 L374.3 814.0 L374.9 815.2 L375.4 816.4 L375.9 817.5 L376.4 818.7 L376.9 819.8 L377.3 821.0 L377.7 822.1 L378.1 823.2 L378.4 824.3 L378.7 825.4 L379.0 826.4 L379.2 827.5 L379.4 828.5 L379.6 829.6 L379.7 830.6 L379.9 831.6 L379.9 832.7 L380.0 833.7 L380.0 834.6 L380.0 835.6 L379.9 836.6 L379.9 837.6 L379.8 838.5 L379.6 839.5 L379.5 840.4 L379.3 841.4 L379.0 842.3 L378.8 843.2 L378.5 844.2 L378.2 845.1 L377.8 846.0 L377.4 846.9 L377.0 847.8 L376.5 848.7 L376.1 849.6 L375.5 850.5 L375.0 851.4 L374.4 852.2 L373.8 853.1 L373.2 854.0 L372.5 854.9 L371.8 855.7 L371.0 856.6 L370.2 857.5 L369.4 858.3 L368.6 859.2 L367.7 860.0 L366.8 860.9 L365.8 861.7 L364.9 862.6 L363.8 863.5 L362.8 864.3 L361.7 865.2 L360.6 866.0 L359.4 866.9 L358.2 867.7 L356.9 868.6 L355.7 869.5 L354.3 870.3 L353.0 871.2 L351.6 872.1 L350.2 872.9 L348.7 873.8 L347.2 874.7 L345.6 875.6 L344.0 876.4 L342.4 877.3 L340.7 878.2 L339.0 879.1 L337.2 880.0 L335.4 880.9 L333.6 881.8 L331.7 882.7 L329.7 883.6 L327.7 884.6" fill="none" stroke="#ffff00" stroke-width="1.25" stroke-linecap="butt"/>
<path d="M583.4 934.3 L580.6 931.6 L577.9 929.1 L575.3 926.6 L572.8 924.2 L570.4 921.9 L568.1 919.7 L565.9 917.6 L563.9 915.5 L561.9 913.5 L560.0 911.5 L558.3 909.6 L556.6 907.8 L555.0 906.0 L553.5 904.2 L552.1 902.6 L550.7 900.9 L549.5 899.4 L548.3 897.8 L547.2 896.3 L546.2 894.9 L545.2 893.5 L544.4 892.1 L543.6 890.8 L542.9 889.5 L542.2 888.2 L541.6 887.0 L541.1 885.8 L540.7 884.6 L540.3 883.4 L540.0 882.3 L539.8 881.2 L539.6 880.1 L539.5 879.1 L539.5 878.0 L539.6 877.0 L539.7 876.0 L539.9 875.0 L540.1 874.0 L540.4 873.1 L540.8 872.1 L541.3 871.2 L541.8 870.2 L542.4 869.3 L543.0 868.4 L543.8 867.5 L544.6 866.6 L545.5 865.7 L546.4 864.8 L547.5 863.9 L548.6 863.0 L549.8 862.1 L551.1 861.2 L552.4 860.3 L553.9 859.4 L555.4 858.5 L557.0 857.6 L558.7 856.7 L560.5 855.7 L562.4 854.8 L564.4 853.8 L566.5 852.9 L568.7 851.9 L571.0 850.9 L573.4 849.9 L575.9 848.8 L578.6 847.8 L581.3 846.7 L584.2 845.6 L587.2 844.5 L590.3 843.4 L593.6 842.2 L597.0 841.0 L600.5 839.8 L604.2 838.5 L608.0 837.3 L612.0 835.9 L616.2 834.6 L620.5 833.2 L625.0 831.8 L629.6 830.3" fill="none" stroke="#0000ff" stroke-width="1.1" stroke-linecap="butt"/>
<path d="M389.3 793.1 L392.1 795.8 L394.8 798.3 L397.4 800.8 L399.9 803.1 L402.3 805.4 L404.6 807.7 L406.8 809.8 L408.8 811.9 L410.8 813.9 L412.7 815.9 L414.4 817.8 L416.1 819.6 L417.7 821.4 L419.2 823.1 L420.6 824.8 L422.0 826.4 L423.2 828.0 L424.4 829.6 L425.5 831.1 L426.5 832.5 L427.5 833.9 L428.3 835.3 L429.1 836.6 L429.8 837.9 L430.5 839.2 L431.1 840.4 L431.6 841.6 L432.0 842.8 L432.4 844.0 L432.7 845.1 L432.9 846.2 L433.1 847.3 L433.2 848.3 L433.2 849.4 L433.1 850.4 L433.0 851.4 L432.8 852.4 L432.6 853.4 L432.3 854.3 L431.9 855.3 L431.4 856.2 L430.9 857.1 L430.3 858.1 L429.7 859.0 L428.9 859.9 L428.1 860.8 L427.2 861.7 L426.3 862.6 L425.2 863.5 L424.1 864.4 L422.9 865.3 L421.6 866.2 L420.3 867.1 L418.8 868.0 L417.3 868.9 L415.7 869.8 L414.0 870.7 L412.2 871.7 L410.3 872.6 L408.3 873.6 L406.2 874.5 L404.0 875.5 L401.7 876.5 L399.3 877.5 L396.8 878.5 L394.1 879.6 L391.4 880.7 L388.5 881.8 L385.5 882.9 L382.4 884.0 L379.1 885.2 L375.7 886.4 L372.2 887.6 L368.5 888.8 L364.7 890.1 L360.7 891.5 L356.5 892.8 L352.2 894.2 L347.7 895.6 L343.1 897.1" fill="none" stroke="#0000ff" stroke-width="1.1" stroke-linecap="butt"/>
<path d="M399.4 784.6 L403.0 787.3 L406.6 789.8 L410.0 792.3 L413.3 794.7 L416.6 797.0 L419.7 799.2 L422.8 801.3 L425.8 803.4 L428.7 805.3 L431.5 807.2 L434.3 809.0 L436.9 810.8 L439.5 812.4 L442.1 814.0 L444.6 815.6 L447.0 817.0 L449.4 818.4 L451.7 819.8 L454.0 821.1 L456.3 822.3 L458.5 823.5 L460.7 824.6 L462.8 825.7 L464.9 826.7 L467.0 827.6 L469.0 828.6 L471.1 829.4 L473.1 830.3 L475.1 831.0 L477.0 831.8 L479.0 832.5 L480.9 833.1 L482.9 833.8 L484.8 834.3 L486.8 834.9 L488.7 835.4 L490.6 835.8 L492.6 836.3 L494.5 836.7 L496.5 837.0 L498.5 837.3 L500.5 837.6 L502.5 837.9 L504.5 838.1 L506.6 838.3 L508.7 838.4 L510.8 838.5 L513.0 838.6 L515.1 838.6 L517.4 838.6 L519.6 838.6 L521.9 838.6 L524.3 838.5 L526.7 838.4 L529.2 838.2 L531.7 838.0 L534.3 837.8 L536.9 837.5 L539.6 837.2 L542.4 836.9 L545.2 836.6 L548.2 836.2 L551.2 835.7 L554.3 835.2 L557.5 834.7 L560.8 834.2 L564.1 833.6 L567.6 833.0 L571.2 832.3 L574.9 831.6 L578.8 830.8 L582.7 830.0 L586.8 829.2 L591.0 828.3 L595.3 827.4 L599.8 826.4 L604.5 825.4 L609.3 824.3 L614.2 823.1 L619.4 821.9" fill="none" stroke="#00ff00" stroke-width="1.3" stroke-linecap="butt"/>
<path d="M573.3 942.8 L569.7 940.1 L566.1 937.6 L562.7 935.1 L559.4 932.7 L556.1 930.4 L553.0 928.2 L549.9 926.1 L546.9 924.0 L544.0 922.1 L541.2 920.2 L538.4 918.4 L535.8 916.6 L533.2 915.0 L530.6 913.4 L528.1 911.8 L525.7 910.4 L523.3 909.0 L521.0 907.6 L518.7 906.3 L516.4 905.1 L514.2 903.9 L512.0 902.8 L509.9 901.7 L507.8 900.7 L505.7 899.7 L503.7 898.8 L501.6 898.0 L499.6 897.1 L497.6 896.3 L495.7 895.6 L493.7 894.9 L491.8 894.2 L489.8 893.6 L487.9 893.0 L485.9 892.5 L484.0 892.0 L482.1 891.5 L480.1 891.1 L478.2 890.7 L476.2 890.4 L474.2 890.1 L472.2 889.8 L470.2 889.5 L468.2 889.3 L466.1 889.1 L464.0 889.0 L461.9 888.9 L459.7 888.8 L457.6 888.8 L455.3 888.7 L453.1 888.8 L450.8 888.8 L448.4 888.9 L446.0 889.0 L443.5 889.2 L441.0 889.4 L438.4 889.6 L435.8 889.9 L433.1 890.1 L430.3 890.5 L427.5 890.8 L424.5 891.2 L421.5 891.7 L418.4 892.1 L415.2 892.7 L411.9 893.2 L408.6 893.8 L405.1 894.4 L401.5 895.1 L397.8 895.8 L393.9 896.6 L390.0 897.4 L385.9 898.2 L381.7 899.1 L377.4 900.0 L372.9 901.0 L368.2 902.0 L363.4 903.1 L358.5 904.3 L353.3 905.4" fill="none" stroke="#00ff00" stroke-width="1.3" stroke-linecap="butt"/>
<path d="M412.9 773.4 L415.4 774.9 L418.0 776.3 L420.5 777.7 L423.0 779.1 L425.4 780.5 L427.9 781.8 L430.3 783.1 L432.7 784.3 L435.1 785.5 L437.4 786.7 L439.7 787.9 L442.1 789.0 L444.4 790.1 L446.6 791.1 L448.9 792.2 L451.1 793.2 L453.4 794.2 L455.6 795.1 L457.8 796.0 L460.0 796.9 L462.2 797.8 L464.4 798.6 L466.5 799.5 L468.7 800.2 L470.8 801.0 L473.0 801.8 L475.1 802.5 L477.3 803.2 L479.4 803.8 L481.5 804.5 L483.7 805.1 L485.8 805.7 L487.9 806.3 L490.0 806.8 L492.2 807.3 L494.3 807.8 L496.4 808.3 L498.6 808.8 L500.7 809.2 L502.9 809.6 L505.0 810.0 L507.2 810.4 L509.4 810.8 L511.5 811.1 L513.7 811.4 L515.9 811.7 L518.2 812.0 L520.4 812.2 L522.6 812.4 L524.9 812.6 L527.1 812.8 L529.4 813.0 L531.7 813.1 L534.1 813.3 L536.4 813.4 L538.8 813.5 L541.1 813.5 L543.5 813.6 L546.0 813.6 L548.4 813.6 L550.9 813.6 L553.4 813.5 L555.9 813.5 L558.5 813.4 L561.1 813.3 L563.7 813.2 L566.3 813.1 L569.0 812.9 L571.7 812.7 L574.5 812.5 L577.2 812.3 L580.1 812.1 L582.9 811.8 L585.8 811.5 L588.7 811.2 L591.7 810.9 L594.7 810.6 L597.8 810.2 L600.9 809.8 L604.0 809.4" fill="none" stroke="#ff0000" stroke-width="1.3" stroke-linecap="butt"/>
<path d="M559.8 954.0 L557.3 952.5 L554.7 951.1 L552.2 949.7 L549.7 948.3 L547.3 946.9 L544.8 945.6 L542.4 944.3 L540.0 943.1 L537.6 941.9 L535.3 940.7 L533.0 939.5 L530.6 938.4 L528.3 937.3 L526.1 936.3 L523.8 935.2 L521.6 934.2 L519.3 933.2 L517.1 932.3 L514.9 931.4 L512.7 930.5 L510.5 929.6 L508.3 928.7 L506.2 927.9 L504.0 927.1 L501.9 926.4 L499.7 925.6 L497.6 924.9 L495.4 924.2 L493.3 923.6 L491.2 922.9 L489.0 922.3 L486.9 921.7 L484.8 921.1 L482.7 920.6 L480.5 920.0 L478.4 919.5 L476.3 919.1 L474.1 918.6 L472.0 918.2 L469.8 917.7 L467.7 917.4 L465.5 917.0 L463.3 916.6 L461.2 916.3 L459.0 916.0 L456.8 915.7 L454.5 915.4 L452.3 915.2 L450.1 915.0 L447.8 914.7 L445.6 914.6 L443.3 914.4 L441.0 914.2 L438.6 914.1 L436.3 914.0 L433.9 913.9 L431.6 913.9 L429.2 913.8 L426.7 913.8 L424.3 913.8 L421.8 913.8 L419.3 913.8 L416.8 913.9 L414.2 914.0 L411.6 914.1 L409.0 914.2 L406.4 914.3 L403.7 914.5 L401.0 914.7 L398.2 914.9 L395.5 915.1 L392.6 915.3 L389.8 915.6 L386.9 915.8 L384.0 916.1 L381.0 916.5 L378.0 916.8 L374.9 917.2 L371.8 917.6 L368.7 918.0" fill="none" stroke="#ff0000" stroke-width="1.3" stroke-linecap="butt"/>
<path d="M578.5 938.8 L394.2 788.5" fill="none" stroke="#000" stroke-width="1.2"/>
<path d="M348.2 901.3 L624.5 826.1" fill="none" stroke="#000" stroke-width="1.2"/><text transform="translate(674.1 747.0) scale(0.92 1)" font-size="8.5"  text-anchor="start">-3</text>
<text transform="translate(643.4 722.0) scale(0.92 1)" font-size="8.5"  text-anchor="start">-2</text>
<text transform="translate(612.7 696.9) scale(0.92 1)" font-size="8.5"  text-anchor="start">-1</text>
<text transform="translate(582.0 671.9) scale(0.92 1)" font-size="8.5"  text-anchor="start">0</text>
<text transform="translate(551.3 646.8) scale(0.92 1)" font-size="8.5"  text-anchor="start">1</text>
<text transform="translate(520.6 621.8) scale(0.92 1)" font-size="8.5"  text-anchor="start">2</text>
<text transform="translate(490.0 596.7) scale(0.92 1)" font-size="8.5"  text-anchor="start">3</text>
<text transform="translate(520.9 1039.0) scale(0.92 1)" font-size="8.5"  text-anchor="start">-2</text>
<text transform="translate(551.5 1014.0) scale(0.92 1)" font-size="8.5"  text-anchor="start">-1</text>
<text transform="translate(582.2 988.9) scale(0.92 1)" font-size="8.5"  text-anchor="start">0</text>
<text transform="translate(612.9 963.9) scale(0.92 1)" font-size="8.5"  text-anchor="start">1</text>
<text transform="translate(643.6 938.8) scale(0.92 1)" font-size="8.5"  text-anchor="start">2</text>
<text transform="translate(674.3 913.8) scale(0.92 1)" font-size="8.5"  text-anchor="start">3</text>
<text transform="translate(613.0 641.0) scale(0.925 1)" font-size="10" font-weight="bold" text-anchor="start">y Axis</text>
<text transform="translate(613.0 1008.8) scale(0.925 1)" font-size="10" font-weight="bold" text-anchor="start">x Axis</text>
</svg>
<div class="hr"></div>
</body></html>
